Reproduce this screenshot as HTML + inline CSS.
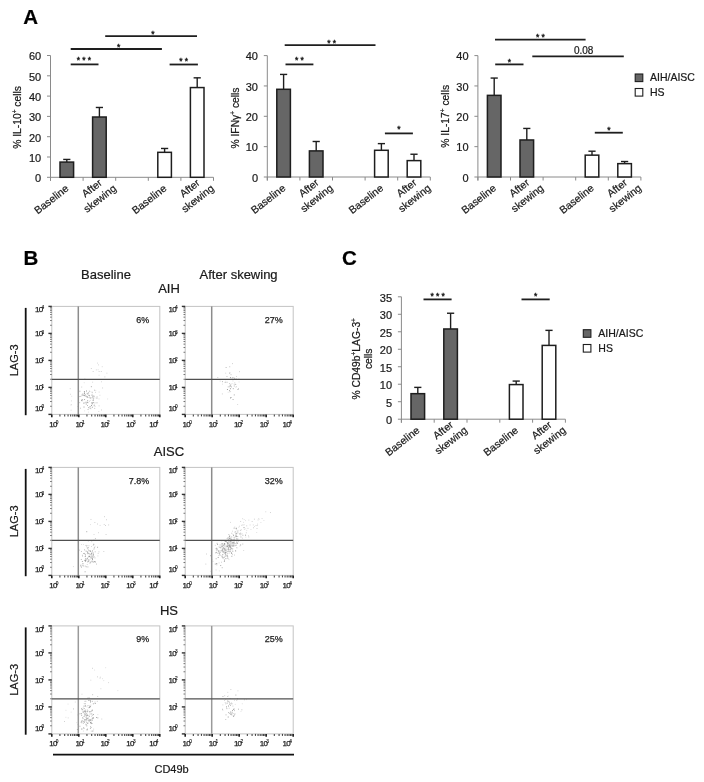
<!DOCTYPE html>
<html><head><meta charset="utf-8"><style>html,body{margin:0;padding:0;background:#fff;}body{width:704px;height:782px;overflow:hidden;font-family:"Liberation Sans",sans-serif;}svg{display:block;filter:grayscale(1) blur(0.3px);} svg text{stroke:#1a1a1a;stroke-width:0.22px;}</style></head><body>
<svg width="704" height="782" viewBox="0 0 704 782" font-family="Liberation Sans, sans-serif">
<rect width="704" height="782" fill="#fff"/>
<text x="23.3" y="23.5" font-size="20.5" font-weight="bold" fill="#000">A</text>
<text x="23.6" y="265" font-size="20.5" font-weight="bold" fill="#000">B</text>
<text x="342" y="265.2" font-size="20.5" font-weight="bold" fill="#000">C</text>
<line x1="50.5" y1="55.5" x2="50.5" y2="180.8" stroke="#8a8a8a" stroke-width="1"/>
<line x1="47" y1="177.3" x2="50.5" y2="177.3" stroke="#8a8a8a" stroke-width="1"/>
<text x="41.2" y="182.1" font-size="11" text-anchor="end" fill="#1a1a1a">0</text>
<line x1="47" y1="157" x2="50.5" y2="157" stroke="#8a8a8a" stroke-width="1"/>
<text x="41.2" y="161.8" font-size="11" text-anchor="end" fill="#1a1a1a">10</text>
<line x1="47" y1="136.7" x2="50.5" y2="136.7" stroke="#8a8a8a" stroke-width="1"/>
<text x="41.2" y="141.5" font-size="11" text-anchor="end" fill="#1a1a1a">20</text>
<line x1="47" y1="116.4" x2="50.5" y2="116.4" stroke="#8a8a8a" stroke-width="1"/>
<text x="41.2" y="121.2" font-size="11" text-anchor="end" fill="#1a1a1a">30</text>
<line x1="47" y1="96.1" x2="50.5" y2="96.1" stroke="#8a8a8a" stroke-width="1"/>
<text x="41.2" y="100.9" font-size="11" text-anchor="end" fill="#1a1a1a">40</text>
<line x1="47" y1="75.8" x2="50.5" y2="75.8" stroke="#8a8a8a" stroke-width="1"/>
<text x="41.2" y="80.6" font-size="11" text-anchor="end" fill="#1a1a1a">50</text>
<line x1="47" y1="55.5" x2="50.5" y2="55.5" stroke="#8a8a8a" stroke-width="1"/>
<text x="41.2" y="60.3" font-size="11" text-anchor="end" fill="#1a1a1a">60</text>
<line x1="50.5" y1="177.3" x2="213.5" y2="177.3" stroke="#8a8a8a" stroke-width="1"/>
<line x1="50.5" y1="177.3" x2="50.5" y2="180.8" stroke="#8a8a8a" stroke-width="1"/>
<line x1="83.1" y1="177.3" x2="83.1" y2="180.8" stroke="#8a8a8a" stroke-width="1"/>
<line x1="115.7" y1="177.3" x2="115.7" y2="180.8" stroke="#8a8a8a" stroke-width="1"/>
<line x1="148.3" y1="177.3" x2="148.3" y2="180.8" stroke="#8a8a8a" stroke-width="1"/>
<line x1="180.9" y1="177.3" x2="180.9" y2="180.8" stroke="#8a8a8a" stroke-width="1"/>
<line x1="213.5" y1="177.3" x2="213.5" y2="180.8" stroke="#8a8a8a" stroke-width="1"/>
<line x1="66.8" y1="162.08" x2="66.8" y2="159.44" stroke="#1e1e1e" stroke-width="1.4"/>
<line x1="63.2" y1="159.44" x2="70.4" y2="159.44" stroke="#1e1e1e" stroke-width="1.4"/>
<rect x="60" y="162.08" width="13.6" height="15.22" fill="#666666" stroke="#1e1e1e" stroke-width="1.5"/>
<line x1="99.4" y1="117.01" x2="99.4" y2="107.47" stroke="#1e1e1e" stroke-width="1.4"/>
<line x1="95.8" y1="107.47" x2="103" y2="107.47" stroke="#1e1e1e" stroke-width="1.4"/>
<rect x="92.6" y="117.01" width="13.6" height="60.29" fill="#666666" stroke="#1e1e1e" stroke-width="1.5"/>
<line x1="164.6" y1="152.33" x2="164.6" y2="148.47" stroke="#1e1e1e" stroke-width="1.4"/>
<line x1="161" y1="148.47" x2="168.2" y2="148.47" stroke="#1e1e1e" stroke-width="1.4"/>
<rect x="157.8" y="152.33" width="13.6" height="24.97" fill="#fff" stroke="#1e1e1e" stroke-width="1.5"/>
<line x1="197.2" y1="87.57" x2="197.2" y2="77.83" stroke="#1e1e1e" stroke-width="1.4"/>
<line x1="193.6" y1="77.83" x2="200.8" y2="77.83" stroke="#1e1e1e" stroke-width="1.4"/>
<rect x="190.4" y="87.57" width="13.6" height="89.73" fill="#fff" stroke="#1e1e1e" stroke-width="1.5"/>
<line x1="70.7" y1="64.4" x2="98.5" y2="64.4" stroke="#1e1e1e" stroke-width="1.8"/>
<text x="85.1" y="63.2" font-size="8.5" text-anchor="middle" fill="#1a1a1a" style="stroke-width:0.4px" letter-spacing="2.2">***</text>
<line x1="70.7" y1="49" x2="161.9" y2="49" stroke="#1e1e1e" stroke-width="1.8"/>
<text x="119.7" y="49.5" font-size="8.5" text-anchor="middle" fill="#1a1a1a" style="stroke-width:0.4px" letter-spacing="2.2">*</text>
<line x1="105.2" y1="36.1" x2="197" y2="36.1" stroke="#1e1e1e" stroke-width="1.8"/>
<text x="154.1" y="36.9" font-size="8.5" text-anchor="middle" fill="#1a1a1a" style="stroke-width:0.4px" letter-spacing="2.2">*</text>
<line x1="169.6" y1="64.5" x2="197.9" y2="64.5" stroke="#1e1e1e" stroke-width="1.8"/>
<text x="184.85" y="63.7" font-size="8.5" text-anchor="middle" fill="#1a1a1a" style="stroke-width:0.4px" letter-spacing="2.2">**</text>
<g transform="translate(67.1,186.8) rotate(-38)" font-size="10.5" fill="#1a1a1a"><text x="-20.14" y="3.78" text-anchor="middle">Baseline</text></g>
<g transform="translate(110.7,181.5) rotate(-38)" font-size="10.5" fill="#1a1a1a"><text x="-18.97" y="-2.72" text-anchor="middle">After</text><text x="-18.97" y="10.28" text-anchor="middle">skewing</text></g>
<g transform="translate(164.9,186.8) rotate(-38)" font-size="10.5" fill="#1a1a1a"><text x="-20.14" y="3.78" text-anchor="middle">Baseline</text></g>
<g transform="translate(208.5,181.5) rotate(-38)" font-size="10.5" fill="#1a1a1a"><text x="-18.97" y="-2.72" text-anchor="middle">After</text><text x="-18.97" y="10.28" text-anchor="middle">skewing</text></g>
<g transform="translate(21.3,117.4) rotate(-90)" fill="#1a1a1a"><text x="0" y="0" font-size="10.3" text-anchor="middle">% IL-10<tspan font-size="6.5" dy="-4">+</tspan><tspan dy="4"> cells</tspan></text></g>
<line x1="267.3" y1="55.6" x2="267.3" y2="180.5" stroke="#8a8a8a" stroke-width="1"/>
<line x1="263.8" y1="177" x2="267.3" y2="177" stroke="#8a8a8a" stroke-width="1"/>
<text x="258" y="181.8" font-size="11" text-anchor="end" fill="#1a1a1a">0</text>
<line x1="263.8" y1="146.65" x2="267.3" y2="146.65" stroke="#8a8a8a" stroke-width="1"/>
<text x="258" y="151.45" font-size="11" text-anchor="end" fill="#1a1a1a">10</text>
<line x1="263.8" y1="116.3" x2="267.3" y2="116.3" stroke="#8a8a8a" stroke-width="1"/>
<text x="258" y="121.1" font-size="11" text-anchor="end" fill="#1a1a1a">20</text>
<line x1="263.8" y1="85.95" x2="267.3" y2="85.95" stroke="#8a8a8a" stroke-width="1"/>
<text x="258" y="90.75" font-size="11" text-anchor="end" fill="#1a1a1a">30</text>
<line x1="263.8" y1="55.6" x2="267.3" y2="55.6" stroke="#8a8a8a" stroke-width="1"/>
<text x="258" y="60.4" font-size="11" text-anchor="end" fill="#1a1a1a">40</text>
<line x1="267.3" y1="177" x2="430.3" y2="177" stroke="#8a8a8a" stroke-width="1"/>
<line x1="267.3" y1="177" x2="267.3" y2="180.5" stroke="#8a8a8a" stroke-width="1"/>
<line x1="299.9" y1="177" x2="299.9" y2="180.5" stroke="#8a8a8a" stroke-width="1"/>
<line x1="332.5" y1="177" x2="332.5" y2="180.5" stroke="#8a8a8a" stroke-width="1"/>
<line x1="365.1" y1="177" x2="365.1" y2="180.5" stroke="#8a8a8a" stroke-width="1"/>
<line x1="397.7" y1="177" x2="397.7" y2="180.5" stroke="#8a8a8a" stroke-width="1"/>
<line x1="430.3" y1="177" x2="430.3" y2="180.5" stroke="#8a8a8a" stroke-width="1"/>
<line x1="283.6" y1="89.29" x2="283.6" y2="74.42" stroke="#1e1e1e" stroke-width="1.4"/>
<line x1="280" y1="74.42" x2="287.2" y2="74.42" stroke="#1e1e1e" stroke-width="1.4"/>
<rect x="276.8" y="89.29" width="13.6" height="87.71" fill="#666666" stroke="#1e1e1e" stroke-width="1.5"/>
<line x1="316.2" y1="150.9" x2="316.2" y2="141.49" stroke="#1e1e1e" stroke-width="1.4"/>
<line x1="312.6" y1="141.49" x2="319.8" y2="141.49" stroke="#1e1e1e" stroke-width="1.4"/>
<rect x="309.4" y="150.9" width="13.6" height="26.1" fill="#666666" stroke="#1e1e1e" stroke-width="1.5"/>
<line x1="381.4" y1="150.29" x2="381.4" y2="143.62" stroke="#1e1e1e" stroke-width="1.4"/>
<line x1="377.8" y1="143.62" x2="385" y2="143.62" stroke="#1e1e1e" stroke-width="1.4"/>
<rect x="374.6" y="150.29" width="13.6" height="26.71" fill="#fff" stroke="#1e1e1e" stroke-width="1.5"/>
<line x1="414" y1="160.61" x2="414" y2="154.24" stroke="#1e1e1e" stroke-width="1.4"/>
<line x1="410.4" y1="154.24" x2="417.6" y2="154.24" stroke="#1e1e1e" stroke-width="1.4"/>
<rect x="407.2" y="160.61" width="13.6" height="16.39" fill="#fff" stroke="#1e1e1e" stroke-width="1.5"/>
<line x1="285.5" y1="64.4" x2="313.4" y2="64.4" stroke="#1e1e1e" stroke-width="1.8"/>
<text x="300.55" y="62.9" font-size="8.5" text-anchor="middle" fill="#1a1a1a" style="stroke-width:0.4px" letter-spacing="2.2">**</text>
<line x1="284.7" y1="45.1" x2="375.5" y2="45.1" stroke="#1e1e1e" stroke-width="1.8"/>
<text x="332.7" y="46.1" font-size="8.5" text-anchor="middle" fill="#1a1a1a" style="stroke-width:0.4px" letter-spacing="2.2">**</text>
<line x1="384.9" y1="133.4" x2="412.9" y2="133.4" stroke="#1e1e1e" stroke-width="1.8"/>
<text x="400" y="132.2" font-size="8.5" text-anchor="middle" fill="#1a1a1a" style="stroke-width:0.4px" letter-spacing="2.2">*</text>
<g transform="translate(283.9,186.5) rotate(-38)" font-size="10.5" fill="#1a1a1a"><text x="-20.14" y="3.78" text-anchor="middle">Baseline</text></g>
<g transform="translate(327.5,181.2) rotate(-38)" font-size="10.5" fill="#1a1a1a"><text x="-18.97" y="-2.72" text-anchor="middle">After</text><text x="-18.97" y="10.28" text-anchor="middle">skewing</text></g>
<g transform="translate(381.7,186.5) rotate(-38)" font-size="10.5" fill="#1a1a1a"><text x="-20.14" y="3.78" text-anchor="middle">Baseline</text></g>
<g transform="translate(425.3,181.2) rotate(-38)" font-size="10.5" fill="#1a1a1a"><text x="-18.97" y="-2.72" text-anchor="middle">After</text><text x="-18.97" y="10.28" text-anchor="middle">skewing</text></g>
<g transform="translate(239.3,118) rotate(-90)" fill="#1a1a1a"><text x="0" y="0" font-size="10.3" text-anchor="middle">% IFNγ<tspan font-size="6.5" dy="-4">+</tspan><tspan dy="4"> cells</tspan></text></g>
<line x1="477.9" y1="55.6" x2="477.9" y2="180.5" stroke="#8a8a8a" stroke-width="1"/>
<line x1="474.4" y1="177" x2="477.9" y2="177" stroke="#8a8a8a" stroke-width="1"/>
<text x="468.6" y="181.8" font-size="11" text-anchor="end" fill="#1a1a1a">0</text>
<line x1="474.4" y1="146.65" x2="477.9" y2="146.65" stroke="#8a8a8a" stroke-width="1"/>
<text x="468.6" y="151.45" font-size="11" text-anchor="end" fill="#1a1a1a">10</text>
<line x1="474.4" y1="116.3" x2="477.9" y2="116.3" stroke="#8a8a8a" stroke-width="1"/>
<text x="468.6" y="121.1" font-size="11" text-anchor="end" fill="#1a1a1a">20</text>
<line x1="474.4" y1="85.95" x2="477.9" y2="85.95" stroke="#8a8a8a" stroke-width="1"/>
<text x="468.6" y="90.75" font-size="11" text-anchor="end" fill="#1a1a1a">30</text>
<line x1="474.4" y1="55.6" x2="477.9" y2="55.6" stroke="#8a8a8a" stroke-width="1"/>
<text x="468.6" y="60.4" font-size="11" text-anchor="end" fill="#1a1a1a">40</text>
<line x1="477.9" y1="177" x2="640.9" y2="177" stroke="#8a8a8a" stroke-width="1"/>
<line x1="477.9" y1="177" x2="477.9" y2="180.5" stroke="#8a8a8a" stroke-width="1"/>
<line x1="510.5" y1="177" x2="510.5" y2="180.5" stroke="#8a8a8a" stroke-width="1"/>
<line x1="543.1" y1="177" x2="543.1" y2="180.5" stroke="#8a8a8a" stroke-width="1"/>
<line x1="575.7" y1="177" x2="575.7" y2="180.5" stroke="#8a8a8a" stroke-width="1"/>
<line x1="608.3" y1="177" x2="608.3" y2="180.5" stroke="#8a8a8a" stroke-width="1"/>
<line x1="640.9" y1="177" x2="640.9" y2="180.5" stroke="#8a8a8a" stroke-width="1"/>
<line x1="494.2" y1="95.36" x2="494.2" y2="78.06" stroke="#1e1e1e" stroke-width="1.4"/>
<line x1="490.6" y1="78.06" x2="497.8" y2="78.06" stroke="#1e1e1e" stroke-width="1.4"/>
<rect x="487.4" y="95.36" width="13.6" height="81.64" fill="#666666" stroke="#1e1e1e" stroke-width="1.5"/>
<line x1="526.8" y1="139.97" x2="526.8" y2="128.44" stroke="#1e1e1e" stroke-width="1.4"/>
<line x1="523.2" y1="128.44" x2="530.4" y2="128.44" stroke="#1e1e1e" stroke-width="1.4"/>
<rect x="520" y="139.97" width="13.6" height="37.03" fill="#666666" stroke="#1e1e1e" stroke-width="1.5"/>
<line x1="592" y1="155.15" x2="592" y2="151.2" stroke="#1e1e1e" stroke-width="1.4"/>
<line x1="588.4" y1="151.2" x2="595.6" y2="151.2" stroke="#1e1e1e" stroke-width="1.4"/>
<rect x="585.2" y="155.15" width="13.6" height="21.85" fill="#fff" stroke="#1e1e1e" stroke-width="1.5"/>
<line x1="624.6" y1="163.65" x2="624.6" y2="161.52" stroke="#1e1e1e" stroke-width="1.4"/>
<line x1="621" y1="161.52" x2="628.2" y2="161.52" stroke="#1e1e1e" stroke-width="1.4"/>
<rect x="617.8" y="163.65" width="13.6" height="13.35" fill="#fff" stroke="#1e1e1e" stroke-width="1.5"/>
<line x1="495.2" y1="64.4" x2="523.5" y2="64.4" stroke="#1e1e1e" stroke-width="1.8"/>
<text x="510.45" y="64.5" font-size="8.5" text-anchor="middle" fill="#1a1a1a" style="stroke-width:0.4px" letter-spacing="2.2">*</text>
<line x1="495" y1="39.7" x2="585.6" y2="39.7" stroke="#1e1e1e" stroke-width="1.8"/>
<text x="541.4" y="40.1" font-size="8.5" text-anchor="middle" fill="#1a1a1a" style="stroke-width:0.4px" letter-spacing="2.2">**</text>
<line x1="532.3" y1="56.3" x2="623.8" y2="56.3" stroke="#1e1e1e" stroke-width="1.8"/>
<text x="583.65" y="53.5" font-size="10" text-anchor="middle" fill="#1a1a1a">0.08</text>
<line x1="594.8" y1="132.7" x2="622.8" y2="132.7" stroke="#1e1e1e" stroke-width="1.8"/>
<text x="609.9" y="133.4" font-size="8.5" text-anchor="middle" fill="#1a1a1a" style="stroke-width:0.4px" letter-spacing="2.2">*</text>
<g transform="translate(494.5,186.5) rotate(-38)" font-size="10.5" fill="#1a1a1a"><text x="-20.14" y="3.78" text-anchor="middle">Baseline</text></g>
<g transform="translate(538.1,181.2) rotate(-38)" font-size="10.5" fill="#1a1a1a"><text x="-18.97" y="-2.72" text-anchor="middle">After</text><text x="-18.97" y="10.28" text-anchor="middle">skewing</text></g>
<g transform="translate(592.3,186.5) rotate(-38)" font-size="10.5" fill="#1a1a1a"><text x="-20.14" y="3.78" text-anchor="middle">Baseline</text></g>
<g transform="translate(635.9,181.2) rotate(-38)" font-size="10.5" fill="#1a1a1a"><text x="-18.97" y="-2.72" text-anchor="middle">After</text><text x="-18.97" y="10.28" text-anchor="middle">skewing</text></g>
<g transform="translate(448.6,116.3) rotate(-90)" fill="#1a1a1a"><text x="0" y="0" font-size="10.3" text-anchor="middle">% IL-17<tspan font-size="6.5" dy="-4">+</tspan><tspan dy="4"> cells</tspan></text></g>
<rect x="635.2" y="74" width="7.6" height="7.6" fill="#666" stroke="#1e1e1e" stroke-width="1.1"/>
<rect x="635.2" y="88.5" width="7.6" height="7.6" fill="#fff" stroke="#1e1e1e" stroke-width="1.1"/>
<text x="650" y="81.2" font-size="10.5" fill="#1a1a1a">AIH/AISC</text>
<text x="650" y="95.8" font-size="10.5" fill="#1a1a1a">HS</text>
<line x1="401.4" y1="296.8" x2="401.4" y2="422.7" stroke="#8a8a8a" stroke-width="1"/>
<line x1="397.9" y1="419.2" x2="401.4" y2="419.2" stroke="#8a8a8a" stroke-width="1"/>
<text x="392.1" y="424" font-size="11" text-anchor="end" fill="#1a1a1a">0</text>
<line x1="397.9" y1="401.71" x2="401.4" y2="401.71" stroke="#8a8a8a" stroke-width="1"/>
<text x="392.1" y="406.51" font-size="11" text-anchor="end" fill="#1a1a1a">5</text>
<line x1="397.9" y1="384.23" x2="401.4" y2="384.23" stroke="#8a8a8a" stroke-width="1"/>
<text x="392.1" y="389.03" font-size="11" text-anchor="end" fill="#1a1a1a">10</text>
<line x1="397.9" y1="366.74" x2="401.4" y2="366.74" stroke="#8a8a8a" stroke-width="1"/>
<text x="392.1" y="371.54" font-size="11" text-anchor="end" fill="#1a1a1a">15</text>
<line x1="397.9" y1="349.26" x2="401.4" y2="349.26" stroke="#8a8a8a" stroke-width="1"/>
<text x="392.1" y="354.06" font-size="11" text-anchor="end" fill="#1a1a1a">20</text>
<line x1="397.9" y1="331.77" x2="401.4" y2="331.77" stroke="#8a8a8a" stroke-width="1"/>
<text x="392.1" y="336.57" font-size="11" text-anchor="end" fill="#1a1a1a">25</text>
<line x1="397.9" y1="314.29" x2="401.4" y2="314.29" stroke="#8a8a8a" stroke-width="1"/>
<text x="392.1" y="319.09" font-size="11" text-anchor="end" fill="#1a1a1a">30</text>
<line x1="397.9" y1="296.8" x2="401.4" y2="296.8" stroke="#8a8a8a" stroke-width="1"/>
<text x="392.1" y="301.6" font-size="11" text-anchor="end" fill="#1a1a1a">35</text>
<line x1="401.4" y1="419.2" x2="565.4" y2="419.2" stroke="#8a8a8a" stroke-width="1"/>
<line x1="401.4" y1="419.2" x2="401.4" y2="422.7" stroke="#8a8a8a" stroke-width="1"/>
<line x1="434.2" y1="419.2" x2="434.2" y2="422.7" stroke="#8a8a8a" stroke-width="1"/>
<line x1="467" y1="419.2" x2="467" y2="422.7" stroke="#8a8a8a" stroke-width="1"/>
<line x1="499.8" y1="419.2" x2="499.8" y2="422.7" stroke="#8a8a8a" stroke-width="1"/>
<line x1="532.6" y1="419.2" x2="532.6" y2="422.7" stroke="#8a8a8a" stroke-width="1"/>
<line x1="565.4" y1="419.2" x2="565.4" y2="422.7" stroke="#8a8a8a" stroke-width="1"/>
<line x1="417.8" y1="393.67" x2="417.8" y2="387.38" stroke="#1e1e1e" stroke-width="1.4"/>
<line x1="414.2" y1="387.38" x2="421.4" y2="387.38" stroke="#1e1e1e" stroke-width="1.4"/>
<rect x="411" y="393.67" width="13.6" height="25.53" fill="#666666" stroke="#1e1e1e" stroke-width="1.5"/>
<line x1="450.6" y1="328.97" x2="450.6" y2="313.24" stroke="#1e1e1e" stroke-width="1.4"/>
<line x1="447" y1="313.24" x2="454.2" y2="313.24" stroke="#1e1e1e" stroke-width="1.4"/>
<rect x="443.8" y="328.97" width="13.6" height="90.23" fill="#666666" stroke="#1e1e1e" stroke-width="1.5"/>
<line x1="516.2" y1="384.58" x2="516.2" y2="381.08" stroke="#1e1e1e" stroke-width="1.4"/>
<line x1="512.6" y1="381.08" x2="519.8" y2="381.08" stroke="#1e1e1e" stroke-width="1.4"/>
<rect x="509.4" y="384.58" width="13.6" height="34.62" fill="#fff" stroke="#1e1e1e" stroke-width="1.5"/>
<line x1="549" y1="345.41" x2="549" y2="330.37" stroke="#1e1e1e" stroke-width="1.4"/>
<line x1="545.4" y1="330.37" x2="552.6" y2="330.37" stroke="#1e1e1e" stroke-width="1.4"/>
<rect x="542.2" y="345.41" width="13.6" height="73.79" fill="#fff" stroke="#1e1e1e" stroke-width="1.5"/>
<line x1="423.5" y1="299.4" x2="451.6" y2="299.4" stroke="#1e1e1e" stroke-width="1.8"/>
<text x="438.65" y="299.3" font-size="8.5" text-anchor="middle" fill="#1a1a1a" style="stroke-width:0.4px" letter-spacing="2.2">***</text>
<line x1="521.5" y1="299.4" x2="549.7" y2="299.4" stroke="#1e1e1e" stroke-width="1.8"/>
<text x="536.7" y="299.3" font-size="8.5" text-anchor="middle" fill="#1a1a1a" style="stroke-width:0.4px" letter-spacing="2.2">*</text>
<g transform="translate(418.1,428.7) rotate(-38)" font-size="10.5" fill="#1a1a1a"><text x="-20.14" y="3.78" text-anchor="middle">Baseline</text></g>
<g transform="translate(461.9,423.4) rotate(-38)" font-size="10.5" fill="#1a1a1a"><text x="-18.97" y="-2.72" text-anchor="middle">After</text><text x="-18.97" y="10.28" text-anchor="middle">skewing</text></g>
<g transform="translate(516.5,428.7) rotate(-38)" font-size="10.5" fill="#1a1a1a"><text x="-20.14" y="3.78" text-anchor="middle">Baseline</text></g>
<g transform="translate(560.3,423.4) rotate(-38)" font-size="10.5" fill="#1a1a1a"><text x="-18.97" y="-2.72" text-anchor="middle">After</text><text x="-18.97" y="10.28" text-anchor="middle">skewing</text></g>
<g transform="translate(365.8,358.8) rotate(-90)" fill="#1a1a1a"><text x="0" y="-6.1" font-size="10.3" text-anchor="middle">% CD49b<tspan font-size="6.5" dy="-4">+</tspan><tspan dy="4">LAG-3</tspan><tspan font-size="6.5" dy="-4">+</tspan></text><text x="0" y="6.3" font-size="10.3" text-anchor="middle">cells</text></g>
<rect x="583.3" y="329.7" width="7.6" height="7.6" fill="#666" stroke="#1e1e1e" stroke-width="1.1"/>
<rect x="583.3" y="344.5" width="7.6" height="7.6" fill="#fff" stroke="#1e1e1e" stroke-width="1.1"/>
<text x="598.3" y="336.9" font-size="10.5" fill="#1a1a1a">AIH/AISC</text>
<text x="598.3" y="352.2" font-size="10.5" fill="#1a1a1a">HS</text>
<text x="106" y="278.9" font-size="13" text-anchor="middle" fill="#1a1a1a">Baseline</text>
<text x="238.6" y="279.3" font-size="13" text-anchor="middle" fill="#1a1a1a">After skewing</text>
<text x="169" y="293.4" font-size="13" text-anchor="middle" fill="#1a1a1a">AIH</text>
<line x1="25.7" y1="307.9" x2="25.7" y2="415.2" stroke="#111" stroke-width="1.8"/>
<text transform="translate(18.2,360.4) rotate(-90)" font-size="11" text-anchor="middle" fill="#1a1a1a">LAG-3</text>
<rect x="51.8" y="306.4" width="108" height="108" fill="none" stroke="#c4c4c4" stroke-width="1"/>
<rect x="86.85" y="401.98" width="0.9" height="0.9" fill="#8a8a8a"/>
<rect x="93.01" y="402.21" width="0.9" height="0.9" fill="#aaaaaa"/>
<rect x="79.44" y="390.77" width="0.9" height="0.9" fill="#9a9a9a"/>
<rect x="92.67" y="400.14" width="0.9" height="0.9" fill="#8a8a8a"/>
<rect x="88.33" y="407.24" width="0.9" height="0.9" fill="#8a8a8a"/>
<rect x="89.07" y="395.21" width="0.9" height="0.9" fill="#9a9a9a"/>
<rect x="83.94" y="391.63" width="0.9" height="0.9" fill="#8a8a8a"/>
<rect x="84" y="395.12" width="0.9" height="0.9" fill="#9a9a9a"/>
<rect x="96.52" y="402.39" width="0.9" height="0.9" fill="#aaaaaa"/>
<rect x="83.1" y="402.65" width="0.9" height="0.9" fill="#aaaaaa"/>
<rect x="81.67" y="394.48" width="0.9" height="0.9" fill="#8a8a8a"/>
<rect x="82.4" y="393.5" width="0.9" height="0.9" fill="#aaaaaa"/>
<rect x="93.81" y="404.75" width="0.9" height="0.9" fill="#8a8a8a"/>
<rect x="84.14" y="392.82" width="0.9" height="0.9" fill="#b8b8b8"/>
<rect x="88.86" y="390.68" width="0.9" height="0.9" fill="#b8b8b8"/>
<rect x="85.81" y="402.44" width="0.9" height="0.9" fill="#9a9a9a"/>
<rect x="86.94" y="393.43" width="0.9" height="0.9" fill="#aaaaaa"/>
<rect x="78.94" y="396.15" width="0.9" height="0.9" fill="#b8b8b8"/>
<rect x="91.45" y="403.32" width="0.9" height="0.9" fill="#aaaaaa"/>
<rect x="91.01" y="405.02" width="0.9" height="0.9" fill="#8a8a8a"/>
<rect x="89.76" y="397.73" width="0.9" height="0.9" fill="#aaaaaa"/>
<rect x="85.76" y="403.89" width="0.9" height="0.9" fill="#b8b8b8"/>
<rect x="83.65" y="394.68" width="0.9" height="0.9" fill="#8a8a8a"/>
<rect x="92.8" y="395.7" width="0.9" height="0.9" fill="#8a8a8a"/>
<rect x="94.5" y="402.45" width="0.9" height="0.9" fill="#b8b8b8"/>
<rect x="87.04" y="405.15" width="0.9" height="0.9" fill="#aaaaaa"/>
<rect x="92.96" y="399.5" width="0.9" height="0.9" fill="#9a9a9a"/>
<rect x="83.97" y="393.16" width="0.9" height="0.9" fill="#9a9a9a"/>
<rect x="88.27" y="394.74" width="0.9" height="0.9" fill="#9a9a9a"/>
<rect x="79.96" y="407.74" width="0.9" height="0.9" fill="#b8b8b8"/>
<rect x="92.3" y="402.11" width="0.9" height="0.9" fill="#aaaaaa"/>
<rect x="94.19" y="389.74" width="0.9" height="0.9" fill="#aaaaaa"/>
<rect x="84.43" y="378.63" width="0.9" height="0.9" fill="#b8b8b8"/>
<rect x="90.48" y="397.35" width="0.9" height="0.9" fill="#9a9a9a"/>
<rect x="91.83" y="406.75" width="0.9" height="0.9" fill="#8a8a8a"/>
<rect x="82.02" y="399.28" width="0.9" height="0.9" fill="#aaaaaa"/>
<rect x="87.5" y="402.25" width="0.9" height="0.9" fill="#aaaaaa"/>
<rect x="84.96" y="394.5" width="0.9" height="0.9" fill="#9a9a9a"/>
<rect x="86.02" y="390.56" width="0.9" height="0.9" fill="#8a8a8a"/>
<rect x="79.23" y="402.21" width="0.9" height="0.9" fill="#b8b8b8"/>
<rect x="84.39" y="402.59" width="0.9" height="0.9" fill="#b8b8b8"/>
<rect x="86.93" y="396.52" width="0.9" height="0.9" fill="#8a8a8a"/>
<rect x="92.83" y="397.67" width="0.9" height="0.9" fill="#8a8a8a"/>
<rect x="87.21" y="400.34" width="0.9" height="0.9" fill="#8a8a8a"/>
<rect x="82.9" y="394.86" width="0.9" height="0.9" fill="#aaaaaa"/>
<rect x="86.7" y="396.65" width="0.9" height="0.9" fill="#9a9a9a"/>
<rect x="86.08" y="395.79" width="0.9" height="0.9" fill="#aaaaaa"/>
<rect x="93.87" y="395.77" width="0.9" height="0.9" fill="#b8b8b8"/>
<rect x="94.27" y="407.89" width="0.9" height="0.9" fill="#b8b8b8"/>
<rect x="84.14" y="399.14" width="0.9" height="0.9" fill="#9a9a9a"/>
<rect x="91.3" y="402.24" width="0.9" height="0.9" fill="#aaaaaa"/>
<rect x="81.16" y="399.84" width="0.9" height="0.9" fill="#8a8a8a"/>
<rect x="83.55" y="406.58" width="0.9" height="0.9" fill="#8a8a8a"/>
<rect x="88.19" y="392.52" width="0.9" height="0.9" fill="#8a8a8a"/>
<rect x="86.84" y="393.26" width="0.9" height="0.9" fill="#aaaaaa"/>
<rect x="91.54" y="394.82" width="0.9" height="0.9" fill="#9a9a9a"/>
<rect x="80.34" y="395.93" width="0.9" height="0.9" fill="#aaaaaa"/>
<rect x="83.94" y="391.11" width="0.9" height="0.9" fill="#9a9a9a"/>
<rect x="90.87" y="386.27" width="0.9" height="0.9" fill="#9a9a9a"/>
<rect x="89.62" y="406.16" width="0.9" height="0.9" fill="#8a8a8a"/>
<rect x="95.93" y="397.59" width="0.9" height="0.9" fill="#b8b8b8"/>
<rect x="87.6" y="409.13" width="0.9" height="0.9" fill="#aaaaaa"/>
<rect x="77.99" y="403.76" width="0.9" height="0.9" fill="#aaaaaa"/>
<rect x="92.12" y="396.54" width="0.9" height="0.9" fill="#9a9a9a"/>
<rect x="92.06" y="403.12" width="0.9" height="0.9" fill="#aaaaaa"/>
<rect x="89.78" y="407.79" width="0.9" height="0.9" fill="#8a8a8a"/>
<rect x="81.51" y="399.71" width="0.9" height="0.9" fill="#8a8a8a"/>
<rect x="89.15" y="395.35" width="0.9" height="0.9" fill="#b8b8b8"/>
<rect x="92.18" y="381.72" width="0.9" height="0.9" fill="#d2d2d2"/>
<rect x="95.32" y="390.23" width="0.9" height="0.9" fill="#dcdcdc"/>
<rect x="84.21" y="410.44" width="0.9" height="0.9" fill="#dcdcdc"/>
<rect x="84.78" y="401.95" width="0.9" height="0.9" fill="#c8c8c8"/>
<rect x="89.37" y="390.97" width="0.9" height="0.9" fill="#c8c8c8"/>
<rect x="98.56" y="398.47" width="0.9" height="0.9" fill="#d2d2d2"/>
<rect x="91.27" y="391.66" width="0.9" height="0.9" fill="#dcdcdc"/>
<rect x="99.44" y="394.77" width="0.9" height="0.9" fill="#d2d2d2"/>
<rect x="94.57" y="405.82" width="0.9" height="0.9" fill="#c8c8c8"/>
<rect x="107.22" y="398.54" width="0.9" height="0.9" fill="#dcdcdc"/>
<rect x="98.64" y="405.41" width="0.9" height="0.9" fill="#c8c8c8"/>
<rect x="77.95" y="403.77" width="0.9" height="0.9" fill="#c8c8c8"/>
<rect x="94.43" y="397.49" width="0.9" height="0.9" fill="#dcdcdc"/>
<rect x="90.51" y="408.34" width="0.9" height="0.9" fill="#d2d2d2"/>
<rect x="78.15" y="391.71" width="0.9" height="0.9" fill="#c8c8c8"/>
<rect x="95.13" y="391.89" width="0.9" height="0.9" fill="#d2d2d2"/>
<rect x="83.76" y="382.3" width="0.9" height="0.9" fill="#dcdcdc"/>
<rect x="77.24" y="406.02" width="0.9" height="0.9" fill="#dcdcdc"/>
<rect x="92.54" y="400.18" width="0.9" height="0.9" fill="#dcdcdc"/>
<rect x="96.95" y="397.54" width="0.9" height="0.9" fill="#c8c8c8"/>
<rect x="81.27" y="386.59" width="0.9" height="0.9" fill="#c8c8c8"/>
<rect x="93.45" y="405.4" width="0.9" height="0.9" fill="#dcdcdc"/>
<rect x="91.69" y="398.6" width="0.9" height="0.9" fill="#dcdcdc"/>
<rect x="81.78" y="395.08" width="0.9" height="0.9" fill="#c8c8c8"/>
<rect x="91.65" y="394.34" width="0.9" height="0.9" fill="#c8c8c8"/>
<rect x="88.12" y="411.66" width="0.9" height="0.9" fill="#dcdcdc"/>
<rect x="88.52" y="397.03" width="0.9" height="0.9" fill="#c8c8c8"/>
<rect x="81.61" y="400.73" width="0.9" height="0.9" fill="#dcdcdc"/>
<rect x="86.59" y="392.69" width="0.9" height="0.9" fill="#d2d2d2"/>
<rect x="82.33" y="399.68" width="0.9" height="0.9" fill="#d2d2d2"/>
<rect x="85.1" y="396.07" width="0.9" height="0.9" fill="#dcdcdc"/>
<rect x="101.08" y="381.35" width="0.9" height="0.9" fill="#d2d2d2"/>
<rect x="102.15" y="387.53" width="0.9" height="0.9" fill="#c8c8c8"/>
<rect x="91.89" y="392.27" width="0.9" height="0.9" fill="#c8c8c8"/>
<rect x="85.58" y="401.31" width="0.9" height="0.9" fill="#dcdcdc"/>
<rect x="90.15" y="399.9" width="0.9" height="0.9" fill="#dcdcdc"/>
<rect x="88.92" y="400.75" width="0.9" height="0.9" fill="#c8c8c8"/>
<rect x="98.67" y="391.6" width="0.9" height="0.9" fill="#d2d2d2"/>
<rect x="98.38" y="410.98" width="0.9" height="0.9" fill="#d2d2d2"/>
<rect x="83.97" y="402.61" width="0.9" height="0.9" fill="#dcdcdc"/>
<rect x="91.91" y="391.76" width="0.9" height="0.9" fill="#d2d2d2"/>
<rect x="96.61" y="396.06" width="0.9" height="0.9" fill="#d2d2d2"/>
<rect x="91.9" y="403.83" width="0.9" height="0.9" fill="#dcdcdc"/>
<rect x="86.07" y="402.5" width="0.9" height="0.9" fill="#d2d2d2"/>
<rect x="88.84" y="397.03" width="0.9" height="0.9" fill="#d2d2d2"/>
<rect x="84.59" y="395.58" width="0.9" height="0.9" fill="#c8c8c8"/>
<rect x="101.05" y="409.52" width="0.9" height="0.9" fill="#c8c8c8"/>
<rect x="93.01" y="395.65" width="0.9" height="0.9" fill="#d2d2d2"/>
<rect x="106.43" y="372.71" width="0.9" height="0.9" fill="#d2d2d2"/>
<rect x="97.09" y="362.64" width="0.9" height="0.9" fill="#d2d2d2"/>
<rect x="98.61" y="374.76" width="0.9" height="0.9" fill="#dcdcdc"/>
<rect x="92.7" y="371.1" width="0.9" height="0.9" fill="#c8c8c8"/>
<rect x="104.42" y="376.48" width="0.9" height="0.9" fill="#c8c8c8"/>
<rect x="98.67" y="371" width="0.9" height="0.9" fill="#c8c8c8"/>
<rect x="90.85" y="368.14" width="0.9" height="0.9" fill="#c8c8c8"/>
<rect x="95.86" y="369.43" width="0.9" height="0.9" fill="#d2d2d2"/>
<rect x="98" y="364.44" width="0.9" height="0.9" fill="#d2d2d2"/>
<rect x="101.76" y="366.29" width="0.9" height="0.9" fill="#d2d2d2"/>
<rect x="97.66" y="369.3" width="0.9" height="0.9" fill="#dcdcdc"/>
<rect x="100.82" y="370.97" width="0.9" height="0.9" fill="#c8c8c8"/>
<rect x="70.93" y="400.44" width="0.9" height="0.9" fill="#d2d2d2"/>
<rect x="69.73" y="388.28" width="0.9" height="0.9" fill="#c8c8c8"/>
<rect x="70.56" y="404.53" width="0.9" height="0.9" fill="#c8c8c8"/>
<rect x="70.65" y="409.72" width="0.9" height="0.9" fill="#d2d2d2"/>
<rect x="71.28" y="395.76" width="0.9" height="0.9" fill="#dcdcdc"/>
<rect x="70.08" y="393.77" width="0.9" height="0.9" fill="#d2d2d2"/>
<rect x="71.04" y="404.11" width="0.9" height="0.9" fill="#dcdcdc"/>
<line x1="78.3" y1="306.4" x2="78.3" y2="414.4" stroke="#8c8c8c" stroke-width="1.5"/>
<line x1="51.8" y1="379.4" x2="159.8" y2="379.4" stroke="#505050" stroke-width="1.2"/>
<line x1="48.4" y1="414.4" x2="51.8" y2="414.4" stroke="#333" stroke-width="1.4"/>
<line x1="50.1" y1="406.27" x2="51.8" y2="406.27" stroke="#666" stroke-width="0.9"/>
<line x1="50.1" y1="401.52" x2="51.8" y2="401.52" stroke="#666" stroke-width="0.9"/>
<line x1="50.1" y1="398.14" x2="51.8" y2="398.14" stroke="#666" stroke-width="0.9"/>
<line x1="50.1" y1="395.53" x2="51.8" y2="395.53" stroke="#666" stroke-width="0.9"/>
<line x1="50.1" y1="393.39" x2="51.8" y2="393.39" stroke="#666" stroke-width="0.9"/>
<line x1="50.1" y1="391.58" x2="51.8" y2="391.58" stroke="#666" stroke-width="0.9"/>
<line x1="50.1" y1="390.02" x2="51.8" y2="390.02" stroke="#666" stroke-width="0.9"/>
<line x1="50.1" y1="388.64" x2="51.8" y2="388.64" stroke="#666" stroke-width="0.9"/>
<text x="35.1" y="411.1" font-size="8" fill="#1a1a1a" style="stroke-width:0.25px" letter-spacing="-0.75">10</text><text x="41.5" y="408.4" font-size="4.8" fill="#1a1a1a" style="stroke-width:0.15px">0</text>
<line x1="48.4" y1="387.4" x2="51.8" y2="387.4" stroke="#333" stroke-width="1.4"/>
<line x1="50.1" y1="379.27" x2="51.8" y2="379.27" stroke="#666" stroke-width="0.9"/>
<line x1="50.1" y1="374.52" x2="51.8" y2="374.52" stroke="#666" stroke-width="0.9"/>
<line x1="50.1" y1="371.14" x2="51.8" y2="371.14" stroke="#666" stroke-width="0.9"/>
<line x1="50.1" y1="368.53" x2="51.8" y2="368.53" stroke="#666" stroke-width="0.9"/>
<line x1="50.1" y1="366.39" x2="51.8" y2="366.39" stroke="#666" stroke-width="0.9"/>
<line x1="50.1" y1="364.58" x2="51.8" y2="364.58" stroke="#666" stroke-width="0.9"/>
<line x1="50.1" y1="363.02" x2="51.8" y2="363.02" stroke="#666" stroke-width="0.9"/>
<line x1="50.1" y1="361.64" x2="51.8" y2="361.64" stroke="#666" stroke-width="0.9"/>
<text x="35.1" y="390.3" font-size="8" fill="#1a1a1a" style="stroke-width:0.25px" letter-spacing="-0.75">10</text><text x="41.5" y="387.6" font-size="4.8" fill="#1a1a1a" style="stroke-width:0.15px">1</text>
<line x1="48.4" y1="360.4" x2="51.8" y2="360.4" stroke="#333" stroke-width="1.4"/>
<line x1="50.1" y1="352.27" x2="51.8" y2="352.27" stroke="#666" stroke-width="0.9"/>
<line x1="50.1" y1="347.52" x2="51.8" y2="347.52" stroke="#666" stroke-width="0.9"/>
<line x1="50.1" y1="344.14" x2="51.8" y2="344.14" stroke="#666" stroke-width="0.9"/>
<line x1="50.1" y1="341.53" x2="51.8" y2="341.53" stroke="#666" stroke-width="0.9"/>
<line x1="50.1" y1="339.39" x2="51.8" y2="339.39" stroke="#666" stroke-width="0.9"/>
<line x1="50.1" y1="337.58" x2="51.8" y2="337.58" stroke="#666" stroke-width="0.9"/>
<line x1="50.1" y1="336.02" x2="51.8" y2="336.02" stroke="#666" stroke-width="0.9"/>
<line x1="50.1" y1="334.64" x2="51.8" y2="334.64" stroke="#666" stroke-width="0.9"/>
<text x="35.1" y="363.3" font-size="8" fill="#1a1a1a" style="stroke-width:0.25px" letter-spacing="-0.75">10</text><text x="41.5" y="360.6" font-size="4.8" fill="#1a1a1a" style="stroke-width:0.15px">2</text>
<line x1="48.4" y1="333.4" x2="51.8" y2="333.4" stroke="#333" stroke-width="1.4"/>
<line x1="50.1" y1="325.27" x2="51.8" y2="325.27" stroke="#666" stroke-width="0.9"/>
<line x1="50.1" y1="320.52" x2="51.8" y2="320.52" stroke="#666" stroke-width="0.9"/>
<line x1="50.1" y1="317.14" x2="51.8" y2="317.14" stroke="#666" stroke-width="0.9"/>
<line x1="50.1" y1="314.53" x2="51.8" y2="314.53" stroke="#666" stroke-width="0.9"/>
<line x1="50.1" y1="312.39" x2="51.8" y2="312.39" stroke="#666" stroke-width="0.9"/>
<line x1="50.1" y1="310.58" x2="51.8" y2="310.58" stroke="#666" stroke-width="0.9"/>
<line x1="50.1" y1="309.02" x2="51.8" y2="309.02" stroke="#666" stroke-width="0.9"/>
<line x1="50.1" y1="307.64" x2="51.8" y2="307.64" stroke="#666" stroke-width="0.9"/>
<text x="35.1" y="336.3" font-size="8" fill="#1a1a1a" style="stroke-width:0.25px" letter-spacing="-0.75">10</text><text x="41.5" y="333.6" font-size="4.8" fill="#1a1a1a" style="stroke-width:0.15px">3</text>
<line x1="48.4" y1="306.4" x2="51.8" y2="306.4" stroke="#333" stroke-width="1.4"/>
<text x="35.1" y="312" font-size="8" fill="#1a1a1a" style="stroke-width:0.25px" letter-spacing="-0.75">10</text><text x="41.5" y="309.3" font-size="4.8" fill="#1a1a1a" style="stroke-width:0.15px">4</text>
<line x1="51.8" y1="414.4" x2="51.8" y2="417.2" stroke="#222" stroke-width="1.6"/>
<line x1="59.93" y1="414.4" x2="59.93" y2="416.4" stroke="#444" stroke-width="1.1"/>
<line x1="64.68" y1="414.4" x2="64.68" y2="416.4" stroke="#444" stroke-width="1.1"/>
<line x1="68.06" y1="414.4" x2="68.06" y2="416.4" stroke="#444" stroke-width="1.1"/>
<line x1="70.67" y1="414.4" x2="70.67" y2="416.4" stroke="#444" stroke-width="1.1"/>
<line x1="72.81" y1="414.4" x2="72.81" y2="416.4" stroke="#444" stroke-width="1.1"/>
<line x1="74.62" y1="414.4" x2="74.62" y2="416.4" stroke="#444" stroke-width="1.1"/>
<line x1="76.18" y1="414.4" x2="76.18" y2="416.4" stroke="#444" stroke-width="1.1"/>
<line x1="77.56" y1="414.4" x2="77.56" y2="416.4" stroke="#444" stroke-width="1.1"/>
<text x="49.2" y="426.6" font-size="8" fill="#1a1a1a" style="stroke-width:0.25px" letter-spacing="-0.75">10</text><text x="55.8" y="423.9" font-size="4.8" fill="#1a1a1a" style="stroke-width:0.15px">0</text>
<line x1="78.8" y1="414.4" x2="78.8" y2="417.2" stroke="#222" stroke-width="1.6"/>
<line x1="86.93" y1="414.4" x2="86.93" y2="416.4" stroke="#444" stroke-width="1.1"/>
<line x1="91.68" y1="414.4" x2="91.68" y2="416.4" stroke="#444" stroke-width="1.1"/>
<line x1="95.06" y1="414.4" x2="95.06" y2="416.4" stroke="#444" stroke-width="1.1"/>
<line x1="97.67" y1="414.4" x2="97.67" y2="416.4" stroke="#444" stroke-width="1.1"/>
<line x1="99.81" y1="414.4" x2="99.81" y2="416.4" stroke="#444" stroke-width="1.1"/>
<line x1="101.62" y1="414.4" x2="101.62" y2="416.4" stroke="#444" stroke-width="1.1"/>
<line x1="103.18" y1="414.4" x2="103.18" y2="416.4" stroke="#444" stroke-width="1.1"/>
<line x1="104.56" y1="414.4" x2="104.56" y2="416.4" stroke="#444" stroke-width="1.1"/>
<text x="75.4" y="426.6" font-size="8" fill="#1a1a1a" style="stroke-width:0.25px" letter-spacing="-0.75">10</text><text x="82" y="423.9" font-size="4.8" fill="#1a1a1a" style="stroke-width:0.15px">1</text>
<line x1="105.8" y1="414.4" x2="105.8" y2="417.2" stroke="#222" stroke-width="1.6"/>
<line x1="113.93" y1="414.4" x2="113.93" y2="416.4" stroke="#444" stroke-width="1.1"/>
<line x1="118.68" y1="414.4" x2="118.68" y2="416.4" stroke="#444" stroke-width="1.1"/>
<line x1="122.06" y1="414.4" x2="122.06" y2="416.4" stroke="#444" stroke-width="1.1"/>
<line x1="124.67" y1="414.4" x2="124.67" y2="416.4" stroke="#444" stroke-width="1.1"/>
<line x1="126.81" y1="414.4" x2="126.81" y2="416.4" stroke="#444" stroke-width="1.1"/>
<line x1="128.62" y1="414.4" x2="128.62" y2="416.4" stroke="#444" stroke-width="1.1"/>
<line x1="130.18" y1="414.4" x2="130.18" y2="416.4" stroke="#444" stroke-width="1.1"/>
<line x1="131.56" y1="414.4" x2="131.56" y2="416.4" stroke="#444" stroke-width="1.1"/>
<text x="100.5" y="426.6" font-size="8" fill="#1a1a1a" style="stroke-width:0.25px" letter-spacing="-0.75">10</text><text x="107.1" y="423.9" font-size="4.8" fill="#1a1a1a" style="stroke-width:0.15px">2</text>
<line x1="132.8" y1="414.4" x2="132.8" y2="417.2" stroke="#222" stroke-width="1.6"/>
<line x1="140.93" y1="414.4" x2="140.93" y2="416.4" stroke="#444" stroke-width="1.1"/>
<line x1="145.68" y1="414.4" x2="145.68" y2="416.4" stroke="#444" stroke-width="1.1"/>
<line x1="149.06" y1="414.4" x2="149.06" y2="416.4" stroke="#444" stroke-width="1.1"/>
<line x1="151.67" y1="414.4" x2="151.67" y2="416.4" stroke="#444" stroke-width="1.1"/>
<line x1="153.81" y1="414.4" x2="153.81" y2="416.4" stroke="#444" stroke-width="1.1"/>
<line x1="155.62" y1="414.4" x2="155.62" y2="416.4" stroke="#444" stroke-width="1.1"/>
<line x1="157.18" y1="414.4" x2="157.18" y2="416.4" stroke="#444" stroke-width="1.1"/>
<line x1="158.56" y1="414.4" x2="158.56" y2="416.4" stroke="#444" stroke-width="1.1"/>
<text x="126.3" y="426.6" font-size="8" fill="#1a1a1a" style="stroke-width:0.25px" letter-spacing="-0.75">10</text><text x="132.9" y="423.9" font-size="4.8" fill="#1a1a1a" style="stroke-width:0.15px">3</text>
<line x1="159.8" y1="414.4" x2="159.8" y2="417.2" stroke="#222" stroke-width="1.6"/>
<text x="149.2" y="426.6" font-size="8" fill="#1a1a1a" style="stroke-width:0.25px" letter-spacing="-0.75">10</text><text x="155.8" y="423.9" font-size="4.8" fill="#1a1a1a" style="stroke-width:0.15px">4</text>
<text x="149.3" y="322.7" font-size="9" text-anchor="end" fill="#2a2a2a" style="stroke-width:0.25px">6%</text>
<rect x="185.2" y="306.4" width="108" height="108" fill="none" stroke="#c4c4c4" stroke-width="1"/>
<rect x="231.79" y="378.64" width="0.9" height="0.9" fill="#b8b8b8"/>
<rect x="221.96" y="381.23" width="0.9" height="0.9" fill="#aaaaaa"/>
<rect x="225.66" y="367" width="0.9" height="0.9" fill="#aaaaaa"/>
<rect x="232.62" y="399.12" width="0.9" height="0.9" fill="#9a9a9a"/>
<rect x="226.95" y="389.05" width="0.9" height="0.9" fill="#8a8a8a"/>
<rect x="230.35" y="384.39" width="0.9" height="0.9" fill="#aaaaaa"/>
<rect x="228.78" y="386.4" width="0.9" height="0.9" fill="#b8b8b8"/>
<rect x="234.1" y="377.82" width="0.9" height="0.9" fill="#aaaaaa"/>
<rect x="225" y="379.15" width="0.9" height="0.9" fill="#8a8a8a"/>
<rect x="227.73" y="386.43" width="0.9" height="0.9" fill="#b8b8b8"/>
<rect x="233.81" y="385.55" width="0.9" height="0.9" fill="#aaaaaa"/>
<rect x="234.96" y="383.89" width="0.9" height="0.9" fill="#9a9a9a"/>
<rect x="238.08" y="388.51" width="0.9" height="0.9" fill="#9a9a9a"/>
<rect x="229.89" y="385.65" width="0.9" height="0.9" fill="#b8b8b8"/>
<rect x="232.8" y="388.25" width="0.9" height="0.9" fill="#9a9a9a"/>
<rect x="230.08" y="397.51" width="0.9" height="0.9" fill="#8a8a8a"/>
<rect x="229.85" y="388.42" width="0.9" height="0.9" fill="#b8b8b8"/>
<rect x="226.58" y="381.77" width="0.9" height="0.9" fill="#aaaaaa"/>
<rect x="229.03" y="390.2" width="0.9" height="0.9" fill="#9a9a9a"/>
<rect x="226.52" y="376.12" width="0.9" height="0.9" fill="#b8b8b8"/>
<rect x="230.57" y="374.27" width="0.9" height="0.9" fill="#b8b8b8"/>
<rect x="233.79" y="394.47" width="0.9" height="0.9" fill="#9a9a9a"/>
<rect x="237.31" y="389.01" width="0.9" height="0.9" fill="#b8b8b8"/>
<rect x="229.26" y="372.66" width="0.9" height="0.9" fill="#9a9a9a"/>
<rect x="235.64" y="379.12" width="0.9" height="0.9" fill="#8a8a8a"/>
<rect x="232.45" y="377.18" width="0.9" height="0.9" fill="#9a9a9a"/>
<rect x="231.01" y="386.44" width="0.9" height="0.9" fill="#aaaaaa"/>
<rect x="233.76" y="383.69" width="0.9" height="0.9" fill="#b8b8b8"/>
<rect x="224.75" y="381.86" width="0.9" height="0.9" fill="#9a9a9a"/>
<rect x="229.67" y="385.44" width="0.9" height="0.9" fill="#8a8a8a"/>
<rect x="229.95" y="377.12" width="0.9" height="0.9" fill="#8a8a8a"/>
<rect x="229.2" y="383.22" width="0.9" height="0.9" fill="#b8b8b8"/>
<rect x="229.98" y="388.15" width="0.9" height="0.9" fill="#aaaaaa"/>
<rect x="230.64" y="397.11" width="0.9" height="0.9" fill="#9a9a9a"/>
<rect x="229.3" y="366.35" width="0.9" height="0.9" fill="#b8b8b8"/>
<rect x="233.35" y="377.43" width="0.9" height="0.9" fill="#dcdcdc"/>
<rect x="231.57" y="383.11" width="0.9" height="0.9" fill="#dcdcdc"/>
<rect x="230.5" y="377.58" width="0.9" height="0.9" fill="#c8c8c8"/>
<rect x="227.72" y="391.78" width="0.9" height="0.9" fill="#dcdcdc"/>
<rect x="229.39" y="391.38" width="0.9" height="0.9" fill="#c8c8c8"/>
<rect x="225.12" y="381.54" width="0.9" height="0.9" fill="#dcdcdc"/>
<rect x="235.41" y="384.09" width="0.9" height="0.9" fill="#d2d2d2"/>
<rect x="230.16" y="390.9" width="0.9" height="0.9" fill="#d2d2d2"/>
<rect x="221.99" y="383.67" width="0.9" height="0.9" fill="#dcdcdc"/>
<rect x="237.2" y="404.03" width="0.9" height="0.9" fill="#d2d2d2"/>
<rect x="238.61" y="381.49" width="0.9" height="0.9" fill="#dcdcdc"/>
<rect x="238.42" y="378.44" width="0.9" height="0.9" fill="#d2d2d2"/>
<rect x="221.87" y="393.49" width="0.9" height="0.9" fill="#c8c8c8"/>
<rect x="234.33" y="382.17" width="0.9" height="0.9" fill="#dcdcdc"/>
<rect x="217.35" y="377.05" width="0.9" height="0.9" fill="#c8c8c8"/>
<rect x="225.25" y="372.71" width="0.9" height="0.9" fill="#d2d2d2"/>
<rect x="239.09" y="371.25" width="0.9" height="0.9" fill="#c8c8c8"/>
<rect x="219.74" y="380.64" width="0.9" height="0.9" fill="#d2d2d2"/>
<rect x="232.5" y="380.52" width="0.9" height="0.9" fill="#d2d2d2"/>
<rect x="229.45" y="372.06" width="0.9" height="0.9" fill="#dcdcdc"/>
<rect x="235.49" y="386.79" width="0.9" height="0.9" fill="#d2d2d2"/>
<rect x="235.9" y="385.96" width="0.9" height="0.9" fill="#d2d2d2"/>
<rect x="232.05" y="363.2" width="0.9" height="0.9" fill="#c8c8c8"/>
<rect x="235.68" y="378.21" width="0.9" height="0.9" fill="#c8c8c8"/>
<rect x="236.04" y="376.08" width="0.9" height="0.9" fill="#d2d2d2"/>
<line x1="211.7" y1="306.4" x2="211.7" y2="414.4" stroke="#8c8c8c" stroke-width="1.5"/>
<line x1="185.2" y1="379.4" x2="293.2" y2="379.4" stroke="#505050" stroke-width="1.2"/>
<line x1="181.8" y1="414.4" x2="185.2" y2="414.4" stroke="#333" stroke-width="1.4"/>
<line x1="183.5" y1="406.27" x2="185.2" y2="406.27" stroke="#666" stroke-width="0.9"/>
<line x1="183.5" y1="401.52" x2="185.2" y2="401.52" stroke="#666" stroke-width="0.9"/>
<line x1="183.5" y1="398.14" x2="185.2" y2="398.14" stroke="#666" stroke-width="0.9"/>
<line x1="183.5" y1="395.53" x2="185.2" y2="395.53" stroke="#666" stroke-width="0.9"/>
<line x1="183.5" y1="393.39" x2="185.2" y2="393.39" stroke="#666" stroke-width="0.9"/>
<line x1="183.5" y1="391.58" x2="185.2" y2="391.58" stroke="#666" stroke-width="0.9"/>
<line x1="183.5" y1="390.02" x2="185.2" y2="390.02" stroke="#666" stroke-width="0.9"/>
<line x1="183.5" y1="388.64" x2="185.2" y2="388.64" stroke="#666" stroke-width="0.9"/>
<text x="168.5" y="411.1" font-size="8" fill="#1a1a1a" style="stroke-width:0.25px" letter-spacing="-0.75">10</text><text x="174.9" y="408.4" font-size="4.8" fill="#1a1a1a" style="stroke-width:0.15px">0</text>
<line x1="181.8" y1="387.4" x2="185.2" y2="387.4" stroke="#333" stroke-width="1.4"/>
<line x1="183.5" y1="379.27" x2="185.2" y2="379.27" stroke="#666" stroke-width="0.9"/>
<line x1="183.5" y1="374.52" x2="185.2" y2="374.52" stroke="#666" stroke-width="0.9"/>
<line x1="183.5" y1="371.14" x2="185.2" y2="371.14" stroke="#666" stroke-width="0.9"/>
<line x1="183.5" y1="368.53" x2="185.2" y2="368.53" stroke="#666" stroke-width="0.9"/>
<line x1="183.5" y1="366.39" x2="185.2" y2="366.39" stroke="#666" stroke-width="0.9"/>
<line x1="183.5" y1="364.58" x2="185.2" y2="364.58" stroke="#666" stroke-width="0.9"/>
<line x1="183.5" y1="363.02" x2="185.2" y2="363.02" stroke="#666" stroke-width="0.9"/>
<line x1="183.5" y1="361.64" x2="185.2" y2="361.64" stroke="#666" stroke-width="0.9"/>
<text x="168.5" y="390.3" font-size="8" fill="#1a1a1a" style="stroke-width:0.25px" letter-spacing="-0.75">10</text><text x="174.9" y="387.6" font-size="4.8" fill="#1a1a1a" style="stroke-width:0.15px">1</text>
<line x1="181.8" y1="360.4" x2="185.2" y2="360.4" stroke="#333" stroke-width="1.4"/>
<line x1="183.5" y1="352.27" x2="185.2" y2="352.27" stroke="#666" stroke-width="0.9"/>
<line x1="183.5" y1="347.52" x2="185.2" y2="347.52" stroke="#666" stroke-width="0.9"/>
<line x1="183.5" y1="344.14" x2="185.2" y2="344.14" stroke="#666" stroke-width="0.9"/>
<line x1="183.5" y1="341.53" x2="185.2" y2="341.53" stroke="#666" stroke-width="0.9"/>
<line x1="183.5" y1="339.39" x2="185.2" y2="339.39" stroke="#666" stroke-width="0.9"/>
<line x1="183.5" y1="337.58" x2="185.2" y2="337.58" stroke="#666" stroke-width="0.9"/>
<line x1="183.5" y1="336.02" x2="185.2" y2="336.02" stroke="#666" stroke-width="0.9"/>
<line x1="183.5" y1="334.64" x2="185.2" y2="334.64" stroke="#666" stroke-width="0.9"/>
<text x="168.5" y="363.3" font-size="8" fill="#1a1a1a" style="stroke-width:0.25px" letter-spacing="-0.75">10</text><text x="174.9" y="360.6" font-size="4.8" fill="#1a1a1a" style="stroke-width:0.15px">2</text>
<line x1="181.8" y1="333.4" x2="185.2" y2="333.4" stroke="#333" stroke-width="1.4"/>
<line x1="183.5" y1="325.27" x2="185.2" y2="325.27" stroke="#666" stroke-width="0.9"/>
<line x1="183.5" y1="320.52" x2="185.2" y2="320.52" stroke="#666" stroke-width="0.9"/>
<line x1="183.5" y1="317.14" x2="185.2" y2="317.14" stroke="#666" stroke-width="0.9"/>
<line x1="183.5" y1="314.53" x2="185.2" y2="314.53" stroke="#666" stroke-width="0.9"/>
<line x1="183.5" y1="312.39" x2="185.2" y2="312.39" stroke="#666" stroke-width="0.9"/>
<line x1="183.5" y1="310.58" x2="185.2" y2="310.58" stroke="#666" stroke-width="0.9"/>
<line x1="183.5" y1="309.02" x2="185.2" y2="309.02" stroke="#666" stroke-width="0.9"/>
<line x1="183.5" y1="307.64" x2="185.2" y2="307.64" stroke="#666" stroke-width="0.9"/>
<text x="168.5" y="336.3" font-size="8" fill="#1a1a1a" style="stroke-width:0.25px" letter-spacing="-0.75">10</text><text x="174.9" y="333.6" font-size="4.8" fill="#1a1a1a" style="stroke-width:0.15px">3</text>
<line x1="181.8" y1="306.4" x2="185.2" y2="306.4" stroke="#333" stroke-width="1.4"/>
<text x="168.5" y="312" font-size="8" fill="#1a1a1a" style="stroke-width:0.25px" letter-spacing="-0.75">10</text><text x="174.9" y="309.3" font-size="4.8" fill="#1a1a1a" style="stroke-width:0.15px">4</text>
<line x1="185.2" y1="414.4" x2="185.2" y2="417.2" stroke="#222" stroke-width="1.6"/>
<line x1="193.33" y1="414.4" x2="193.33" y2="416.4" stroke="#444" stroke-width="1.1"/>
<line x1="198.08" y1="414.4" x2="198.08" y2="416.4" stroke="#444" stroke-width="1.1"/>
<line x1="201.46" y1="414.4" x2="201.46" y2="416.4" stroke="#444" stroke-width="1.1"/>
<line x1="204.07" y1="414.4" x2="204.07" y2="416.4" stroke="#444" stroke-width="1.1"/>
<line x1="206.21" y1="414.4" x2="206.21" y2="416.4" stroke="#444" stroke-width="1.1"/>
<line x1="208.02" y1="414.4" x2="208.02" y2="416.4" stroke="#444" stroke-width="1.1"/>
<line x1="209.58" y1="414.4" x2="209.58" y2="416.4" stroke="#444" stroke-width="1.1"/>
<line x1="210.96" y1="414.4" x2="210.96" y2="416.4" stroke="#444" stroke-width="1.1"/>
<text x="182.6" y="426.6" font-size="8" fill="#1a1a1a" style="stroke-width:0.25px" letter-spacing="-0.75">10</text><text x="189.2" y="423.9" font-size="4.8" fill="#1a1a1a" style="stroke-width:0.15px">0</text>
<line x1="212.2" y1="414.4" x2="212.2" y2="417.2" stroke="#222" stroke-width="1.6"/>
<line x1="220.33" y1="414.4" x2="220.33" y2="416.4" stroke="#444" stroke-width="1.1"/>
<line x1="225.08" y1="414.4" x2="225.08" y2="416.4" stroke="#444" stroke-width="1.1"/>
<line x1="228.46" y1="414.4" x2="228.46" y2="416.4" stroke="#444" stroke-width="1.1"/>
<line x1="231.07" y1="414.4" x2="231.07" y2="416.4" stroke="#444" stroke-width="1.1"/>
<line x1="233.21" y1="414.4" x2="233.21" y2="416.4" stroke="#444" stroke-width="1.1"/>
<line x1="235.02" y1="414.4" x2="235.02" y2="416.4" stroke="#444" stroke-width="1.1"/>
<line x1="236.58" y1="414.4" x2="236.58" y2="416.4" stroke="#444" stroke-width="1.1"/>
<line x1="237.96" y1="414.4" x2="237.96" y2="416.4" stroke="#444" stroke-width="1.1"/>
<text x="208.8" y="426.6" font-size="8" fill="#1a1a1a" style="stroke-width:0.25px" letter-spacing="-0.75">10</text><text x="215.4" y="423.9" font-size="4.8" fill="#1a1a1a" style="stroke-width:0.15px">1</text>
<line x1="239.2" y1="414.4" x2="239.2" y2="417.2" stroke="#222" stroke-width="1.6"/>
<line x1="247.33" y1="414.4" x2="247.33" y2="416.4" stroke="#444" stroke-width="1.1"/>
<line x1="252.08" y1="414.4" x2="252.08" y2="416.4" stroke="#444" stroke-width="1.1"/>
<line x1="255.46" y1="414.4" x2="255.46" y2="416.4" stroke="#444" stroke-width="1.1"/>
<line x1="258.07" y1="414.4" x2="258.07" y2="416.4" stroke="#444" stroke-width="1.1"/>
<line x1="260.21" y1="414.4" x2="260.21" y2="416.4" stroke="#444" stroke-width="1.1"/>
<line x1="262.02" y1="414.4" x2="262.02" y2="416.4" stroke="#444" stroke-width="1.1"/>
<line x1="263.58" y1="414.4" x2="263.58" y2="416.4" stroke="#444" stroke-width="1.1"/>
<line x1="264.96" y1="414.4" x2="264.96" y2="416.4" stroke="#444" stroke-width="1.1"/>
<text x="233.9" y="426.6" font-size="8" fill="#1a1a1a" style="stroke-width:0.25px" letter-spacing="-0.75">10</text><text x="240.5" y="423.9" font-size="4.8" fill="#1a1a1a" style="stroke-width:0.15px">2</text>
<line x1="266.2" y1="414.4" x2="266.2" y2="417.2" stroke="#222" stroke-width="1.6"/>
<line x1="274.33" y1="414.4" x2="274.33" y2="416.4" stroke="#444" stroke-width="1.1"/>
<line x1="279.08" y1="414.4" x2="279.08" y2="416.4" stroke="#444" stroke-width="1.1"/>
<line x1="282.46" y1="414.4" x2="282.46" y2="416.4" stroke="#444" stroke-width="1.1"/>
<line x1="285.07" y1="414.4" x2="285.07" y2="416.4" stroke="#444" stroke-width="1.1"/>
<line x1="287.21" y1="414.4" x2="287.21" y2="416.4" stroke="#444" stroke-width="1.1"/>
<line x1="289.02" y1="414.4" x2="289.02" y2="416.4" stroke="#444" stroke-width="1.1"/>
<line x1="290.58" y1="414.4" x2="290.58" y2="416.4" stroke="#444" stroke-width="1.1"/>
<line x1="291.96" y1="414.4" x2="291.96" y2="416.4" stroke="#444" stroke-width="1.1"/>
<text x="259.7" y="426.6" font-size="8" fill="#1a1a1a" style="stroke-width:0.25px" letter-spacing="-0.75">10</text><text x="266.3" y="423.9" font-size="4.8" fill="#1a1a1a" style="stroke-width:0.15px">3</text>
<line x1="293.2" y1="414.4" x2="293.2" y2="417.2" stroke="#222" stroke-width="1.6"/>
<text x="282.6" y="426.6" font-size="8" fill="#1a1a1a" style="stroke-width:0.25px" letter-spacing="-0.75">10</text><text x="289.2" y="423.9" font-size="4.8" fill="#1a1a1a" style="stroke-width:0.15px">4</text>
<text x="282.7" y="322.7" font-size="9" text-anchor="end" fill="#2a2a2a" style="stroke-width:0.25px">27%</text>
<text x="169" y="455.8" font-size="13" text-anchor="middle" fill="#1a1a1a">AISC</text>
<line x1="25.7" y1="468.9" x2="25.7" y2="576.2" stroke="#111" stroke-width="1.8"/>
<text transform="translate(18.2,521.4) rotate(-90)" font-size="11" text-anchor="middle" fill="#1a1a1a">LAG-3</text>
<rect x="51.8" y="467.4" width="108" height="108" fill="none" stroke="#c4c4c4" stroke-width="1"/>
<rect x="92.11" y="558.16" width="0.9" height="0.9" fill="#8a8a8a"/>
<rect x="84.95" y="561.08" width="0.9" height="0.9" fill="#aaaaaa"/>
<rect x="90.23" y="550.89" width="0.9" height="0.9" fill="#8a8a8a"/>
<rect x="89.87" y="550.45" width="0.9" height="0.9" fill="#9a9a9a"/>
<rect x="88.02" y="560.9" width="0.9" height="0.9" fill="#aaaaaa"/>
<rect x="89.61" y="561.69" width="0.9" height="0.9" fill="#b8b8b8"/>
<rect x="94.15" y="546.89" width="0.9" height="0.9" fill="#b8b8b8"/>
<rect x="97.15" y="546.79" width="0.9" height="0.9" fill="#9a9a9a"/>
<rect x="87.73" y="553.21" width="0.9" height="0.9" fill="#b8b8b8"/>
<rect x="80.83" y="558.96" width="0.9" height="0.9" fill="#aaaaaa"/>
<rect x="78.12" y="556.8" width="0.9" height="0.9" fill="#9a9a9a"/>
<rect x="90.22" y="561.77" width="0.9" height="0.9" fill="#aaaaaa"/>
<rect x="85.82" y="566.36" width="0.9" height="0.9" fill="#aaaaaa"/>
<rect x="85.24" y="558.27" width="0.9" height="0.9" fill="#b8b8b8"/>
<rect x="83.78" y="552.93" width="0.9" height="0.9" fill="#9a9a9a"/>
<rect x="86.89" y="553.23" width="0.9" height="0.9" fill="#b8b8b8"/>
<rect x="83.3" y="553.01" width="0.9" height="0.9" fill="#aaaaaa"/>
<rect x="92.92" y="555.23" width="0.9" height="0.9" fill="#9a9a9a"/>
<rect x="84.78" y="553.85" width="0.9" height="0.9" fill="#9a9a9a"/>
<rect x="86.93" y="557.96" width="0.9" height="0.9" fill="#9a9a9a"/>
<rect x="82.46" y="564.78" width="0.9" height="0.9" fill="#9a9a9a"/>
<rect x="93.69" y="547.82" width="0.9" height="0.9" fill="#b8b8b8"/>
<rect x="82.48" y="563.18" width="0.9" height="0.9" fill="#9a9a9a"/>
<rect x="85.08" y="559.84" width="0.9" height="0.9" fill="#8a8a8a"/>
<rect x="82.12" y="555.51" width="0.9" height="0.9" fill="#aaaaaa"/>
<rect x="91.74" y="561.29" width="0.9" height="0.9" fill="#9a9a9a"/>
<rect x="96.01" y="563.6" width="0.9" height="0.9" fill="#b8b8b8"/>
<rect x="84.05" y="559.88" width="0.9" height="0.9" fill="#aaaaaa"/>
<rect x="93.31" y="543.83" width="0.9" height="0.9" fill="#8a8a8a"/>
<rect x="91.3" y="560.68" width="0.9" height="0.9" fill="#b8b8b8"/>
<rect x="93.12" y="553.79" width="0.9" height="0.9" fill="#8a8a8a"/>
<rect x="80.01" y="565.49" width="0.9" height="0.9" fill="#b8b8b8"/>
<rect x="91.35" y="554.48" width="0.9" height="0.9" fill="#8a8a8a"/>
<rect x="88.42" y="559.37" width="0.9" height="0.9" fill="#8a8a8a"/>
<rect x="94.72" y="551.38" width="0.9" height="0.9" fill="#b8b8b8"/>
<rect x="94.71" y="561.57" width="0.9" height="0.9" fill="#8a8a8a"/>
<rect x="88.66" y="550.41" width="0.9" height="0.9" fill="#8a8a8a"/>
<rect x="85.66" y="550.68" width="0.9" height="0.9" fill="#9a9a9a"/>
<rect x="84.14" y="549.28" width="0.9" height="0.9" fill="#b8b8b8"/>
<rect x="87.3" y="552.16" width="0.9" height="0.9" fill="#8a8a8a"/>
<rect x="84.64" y="571.35" width="0.9" height="0.9" fill="#9a9a9a"/>
<rect x="85.56" y="558.62" width="0.9" height="0.9" fill="#8a8a8a"/>
<rect x="91.8" y="555.79" width="0.9" height="0.9" fill="#b8b8b8"/>
<rect x="87.3" y="561.41" width="0.9" height="0.9" fill="#9a9a9a"/>
<rect x="84.75" y="556.19" width="0.9" height="0.9" fill="#9a9a9a"/>
<rect x="92.56" y="556.72" width="0.9" height="0.9" fill="#aaaaaa"/>
<rect x="90.78" y="556.97" width="0.9" height="0.9" fill="#b8b8b8"/>
<rect x="90.82" y="557.86" width="0.9" height="0.9" fill="#b8b8b8"/>
<rect x="90.88" y="553.13" width="0.9" height="0.9" fill="#8a8a8a"/>
<rect x="85.61" y="544.9" width="0.9" height="0.9" fill="#aaaaaa"/>
<rect x="86.77" y="551.16" width="0.9" height="0.9" fill="#aaaaaa"/>
<rect x="87.64" y="547.12" width="0.9" height="0.9" fill="#9a9a9a"/>
<rect x="84.99" y="555.53" width="0.9" height="0.9" fill="#9a9a9a"/>
<rect x="88.38" y="560.32" width="0.9" height="0.9" fill="#aaaaaa"/>
<rect x="92.87" y="561.59" width="0.9" height="0.9" fill="#9a9a9a"/>
<rect x="92.13" y="550.52" width="0.9" height="0.9" fill="#8a8a8a"/>
<rect x="90.4" y="554.15" width="0.9" height="0.9" fill="#b8b8b8"/>
<rect x="88.93" y="555.91" width="0.9" height="0.9" fill="#9a9a9a"/>
<rect x="81.9" y="560.98" width="0.9" height="0.9" fill="#9a9a9a"/>
<rect x="80.46" y="564.69" width="0.9" height="0.9" fill="#aaaaaa"/>
<rect x="86.31" y="531.29" width="0.9" height="0.9" fill="#9a9a9a"/>
<rect x="86.62" y="559.34" width="0.9" height="0.9" fill="#b8b8b8"/>
<rect x="94.52" y="557.46" width="0.9" height="0.9" fill="#b8b8b8"/>
<rect x="94.93" y="538.21" width="0.9" height="0.9" fill="#b8b8b8"/>
<rect x="88.17" y="555.86" width="0.9" height="0.9" fill="#aaaaaa"/>
<rect x="92.11" y="558.95" width="0.9" height="0.9" fill="#8a8a8a"/>
<rect x="80.96" y="550.98" width="0.9" height="0.9" fill="#b8b8b8"/>
<rect x="82.81" y="565.59" width="0.9" height="0.9" fill="#b8b8b8"/>
<rect x="93.99" y="561.13" width="0.9" height="0.9" fill="#9a9a9a"/>
<rect x="80.96" y="566.67" width="0.9" height="0.9" fill="#9a9a9a"/>
<rect x="84.73" y="565.65" width="0.9" height="0.9" fill="#b8b8b8"/>
<rect x="92.55" y="556.76" width="0.9" height="0.9" fill="#b8b8b8"/>
<rect x="89.16" y="555.87" width="0.9" height="0.9" fill="#8a8a8a"/>
<rect x="88.53" y="553.03" width="0.9" height="0.9" fill="#9a9a9a"/>
<rect x="87.84" y="540.43" width="0.9" height="0.9" fill="#aaaaaa"/>
<rect x="85.35" y="560.2" width="0.9" height="0.9" fill="#8a8a8a"/>
<rect x="87.45" y="566.48" width="0.9" height="0.9" fill="#aaaaaa"/>
<rect x="91.36" y="552.7" width="0.9" height="0.9" fill="#8a8a8a"/>
<rect x="91.25" y="556.18" width="0.9" height="0.9" fill="#b8b8b8"/>
<rect x="86.92" y="547.74" width="0.9" height="0.9" fill="#b8b8b8"/>
<rect x="93.56" y="534.1" width="0.9" height="0.9" fill="#d2d2d2"/>
<rect x="95.12" y="561.21" width="0.9" height="0.9" fill="#c8c8c8"/>
<rect x="93.45" y="539.46" width="0.9" height="0.9" fill="#dcdcdc"/>
<rect x="91.27" y="541.22" width="0.9" height="0.9" fill="#d2d2d2"/>
<rect x="94.65" y="545.74" width="0.9" height="0.9" fill="#dcdcdc"/>
<rect x="93.79" y="556.24" width="0.9" height="0.9" fill="#c8c8c8"/>
<rect x="90.04" y="556.69" width="0.9" height="0.9" fill="#c8c8c8"/>
<rect x="81.9" y="554.7" width="0.9" height="0.9" fill="#c8c8c8"/>
<rect x="103.37" y="551.09" width="0.9" height="0.9" fill="#c8c8c8"/>
<rect x="89.75" y="557.16" width="0.9" height="0.9" fill="#c8c8c8"/>
<rect x="72.93" y="566.19" width="0.9" height="0.9" fill="#d2d2d2"/>
<rect x="91.61" y="557.66" width="0.9" height="0.9" fill="#d2d2d2"/>
<rect x="82.92" y="544.16" width="0.9" height="0.9" fill="#dcdcdc"/>
<rect x="79.12" y="549.68" width="0.9" height="0.9" fill="#c8c8c8"/>
<rect x="91.01" y="546.02" width="0.9" height="0.9" fill="#d2d2d2"/>
<rect x="84.27" y="549.85" width="0.9" height="0.9" fill="#dcdcdc"/>
<rect x="89.55" y="563.06" width="0.9" height="0.9" fill="#c8c8c8"/>
<rect x="90.11" y="558.59" width="0.9" height="0.9" fill="#dcdcdc"/>
<rect x="90.9" y="556.45" width="0.9" height="0.9" fill="#d2d2d2"/>
<rect x="97.73" y="552.89" width="0.9" height="0.9" fill="#c8c8c8"/>
<rect x="88.24" y="550.05" width="0.9" height="0.9" fill="#d2d2d2"/>
<rect x="93.02" y="553.16" width="0.9" height="0.9" fill="#d2d2d2"/>
<rect x="93.49" y="549.02" width="0.9" height="0.9" fill="#d2d2d2"/>
<rect x="91.6" y="552.08" width="0.9" height="0.9" fill="#d2d2d2"/>
<rect x="90.22" y="556.28" width="0.9" height="0.9" fill="#dcdcdc"/>
<rect x="98.48" y="551.39" width="0.9" height="0.9" fill="#c8c8c8"/>
<rect x="80.94" y="566.38" width="0.9" height="0.9" fill="#d2d2d2"/>
<rect x="81.05" y="544.02" width="0.9" height="0.9" fill="#dcdcdc"/>
<rect x="92.9" y="551.98" width="0.9" height="0.9" fill="#dcdcdc"/>
<rect x="88.49" y="545.32" width="0.9" height="0.9" fill="#c8c8c8"/>
<rect x="87.56" y="557.05" width="0.9" height="0.9" fill="#c8c8c8"/>
<rect x="91.82" y="553.4" width="0.9" height="0.9" fill="#dcdcdc"/>
<rect x="87.46" y="548.45" width="0.9" height="0.9" fill="#c8c8c8"/>
<rect x="92.79" y="545.02" width="0.9" height="0.9" fill="#d2d2d2"/>
<rect x="92.23" y="560.55" width="0.9" height="0.9" fill="#c8c8c8"/>
<rect x="97.46" y="555.47" width="0.9" height="0.9" fill="#d2d2d2"/>
<rect x="92.77" y="555.01" width="0.9" height="0.9" fill="#d2d2d2"/>
<rect x="88.06" y="548.93" width="0.9" height="0.9" fill="#dcdcdc"/>
<rect x="93.27" y="556.32" width="0.9" height="0.9" fill="#dcdcdc"/>
<rect x="86.66" y="545.26" width="0.9" height="0.9" fill="#c8c8c8"/>
<rect x="86.79" y="564.15" width="0.9" height="0.9" fill="#d2d2d2"/>
<rect x="88.93" y="554.29" width="0.9" height="0.9" fill="#d2d2d2"/>
<rect x="86.02" y="546.34" width="0.9" height="0.9" fill="#d2d2d2"/>
<rect x="90.2" y="554.34" width="0.9" height="0.9" fill="#c8c8c8"/>
<rect x="98.11" y="532.27" width="0.9" height="0.9" fill="#d2d2d2"/>
<rect x="97.01" y="523.56" width="0.9" height="0.9" fill="#c8c8c8"/>
<rect x="103.73" y="523.95" width="0.9" height="0.9" fill="#c8c8c8"/>
<rect x="90.51" y="518.93" width="0.9" height="0.9" fill="#c8c8c8"/>
<rect x="90.1" y="524.19" width="0.9" height="0.9" fill="#dcdcdc"/>
<rect x="99.63" y="524.91" width="0.9" height="0.9" fill="#d2d2d2"/>
<rect x="105.1" y="525.07" width="0.9" height="0.9" fill="#c8c8c8"/>
<rect x="108.2" y="524.49" width="0.9" height="0.9" fill="#c8c8c8"/>
<rect x="105.61" y="534.06" width="0.9" height="0.9" fill="#c8c8c8"/>
<rect x="106.09" y="519.33" width="0.9" height="0.9" fill="#c8c8c8"/>
<rect x="94.41" y="522.12" width="0.9" height="0.9" fill="#c8c8c8"/>
<rect x="104.07" y="516.26" width="0.9" height="0.9" fill="#c8c8c8"/>
<line x1="78.3" y1="467.4" x2="78.3" y2="575.4" stroke="#8c8c8c" stroke-width="1.5"/>
<line x1="51.8" y1="540.4" x2="159.8" y2="540.4" stroke="#505050" stroke-width="1.2"/>
<line x1="48.4" y1="575.4" x2="51.8" y2="575.4" stroke="#333" stroke-width="1.4"/>
<line x1="50.1" y1="567.27" x2="51.8" y2="567.27" stroke="#666" stroke-width="0.9"/>
<line x1="50.1" y1="562.52" x2="51.8" y2="562.52" stroke="#666" stroke-width="0.9"/>
<line x1="50.1" y1="559.14" x2="51.8" y2="559.14" stroke="#666" stroke-width="0.9"/>
<line x1="50.1" y1="556.53" x2="51.8" y2="556.53" stroke="#666" stroke-width="0.9"/>
<line x1="50.1" y1="554.39" x2="51.8" y2="554.39" stroke="#666" stroke-width="0.9"/>
<line x1="50.1" y1="552.58" x2="51.8" y2="552.58" stroke="#666" stroke-width="0.9"/>
<line x1="50.1" y1="551.02" x2="51.8" y2="551.02" stroke="#666" stroke-width="0.9"/>
<line x1="50.1" y1="549.64" x2="51.8" y2="549.64" stroke="#666" stroke-width="0.9"/>
<text x="35.1" y="572.1" font-size="8" fill="#1a1a1a" style="stroke-width:0.25px" letter-spacing="-0.75">10</text><text x="41.5" y="569.4" font-size="4.8" fill="#1a1a1a" style="stroke-width:0.15px">0</text>
<line x1="48.4" y1="548.4" x2="51.8" y2="548.4" stroke="#333" stroke-width="1.4"/>
<line x1="50.1" y1="540.27" x2="51.8" y2="540.27" stroke="#666" stroke-width="0.9"/>
<line x1="50.1" y1="535.52" x2="51.8" y2="535.52" stroke="#666" stroke-width="0.9"/>
<line x1="50.1" y1="532.14" x2="51.8" y2="532.14" stroke="#666" stroke-width="0.9"/>
<line x1="50.1" y1="529.53" x2="51.8" y2="529.53" stroke="#666" stroke-width="0.9"/>
<line x1="50.1" y1="527.39" x2="51.8" y2="527.39" stroke="#666" stroke-width="0.9"/>
<line x1="50.1" y1="525.58" x2="51.8" y2="525.58" stroke="#666" stroke-width="0.9"/>
<line x1="50.1" y1="524.02" x2="51.8" y2="524.02" stroke="#666" stroke-width="0.9"/>
<line x1="50.1" y1="522.64" x2="51.8" y2="522.64" stroke="#666" stroke-width="0.9"/>
<text x="35.1" y="551.3" font-size="8" fill="#1a1a1a" style="stroke-width:0.25px" letter-spacing="-0.75">10</text><text x="41.5" y="548.6" font-size="4.8" fill="#1a1a1a" style="stroke-width:0.15px">1</text>
<line x1="48.4" y1="521.4" x2="51.8" y2="521.4" stroke="#333" stroke-width="1.4"/>
<line x1="50.1" y1="513.27" x2="51.8" y2="513.27" stroke="#666" stroke-width="0.9"/>
<line x1="50.1" y1="508.52" x2="51.8" y2="508.52" stroke="#666" stroke-width="0.9"/>
<line x1="50.1" y1="505.14" x2="51.8" y2="505.14" stroke="#666" stroke-width="0.9"/>
<line x1="50.1" y1="502.53" x2="51.8" y2="502.53" stroke="#666" stroke-width="0.9"/>
<line x1="50.1" y1="500.39" x2="51.8" y2="500.39" stroke="#666" stroke-width="0.9"/>
<line x1="50.1" y1="498.58" x2="51.8" y2="498.58" stroke="#666" stroke-width="0.9"/>
<line x1="50.1" y1="497.02" x2="51.8" y2="497.02" stroke="#666" stroke-width="0.9"/>
<line x1="50.1" y1="495.64" x2="51.8" y2="495.64" stroke="#666" stroke-width="0.9"/>
<text x="35.1" y="524.3" font-size="8" fill="#1a1a1a" style="stroke-width:0.25px" letter-spacing="-0.75">10</text><text x="41.5" y="521.6" font-size="4.8" fill="#1a1a1a" style="stroke-width:0.15px">2</text>
<line x1="48.4" y1="494.4" x2="51.8" y2="494.4" stroke="#333" stroke-width="1.4"/>
<line x1="50.1" y1="486.27" x2="51.8" y2="486.27" stroke="#666" stroke-width="0.9"/>
<line x1="50.1" y1="481.52" x2="51.8" y2="481.52" stroke="#666" stroke-width="0.9"/>
<line x1="50.1" y1="478.14" x2="51.8" y2="478.14" stroke="#666" stroke-width="0.9"/>
<line x1="50.1" y1="475.53" x2="51.8" y2="475.53" stroke="#666" stroke-width="0.9"/>
<line x1="50.1" y1="473.39" x2="51.8" y2="473.39" stroke="#666" stroke-width="0.9"/>
<line x1="50.1" y1="471.58" x2="51.8" y2="471.58" stroke="#666" stroke-width="0.9"/>
<line x1="50.1" y1="470.02" x2="51.8" y2="470.02" stroke="#666" stroke-width="0.9"/>
<line x1="50.1" y1="468.64" x2="51.8" y2="468.64" stroke="#666" stroke-width="0.9"/>
<text x="35.1" y="497.3" font-size="8" fill="#1a1a1a" style="stroke-width:0.25px" letter-spacing="-0.75">10</text><text x="41.5" y="494.6" font-size="4.8" fill="#1a1a1a" style="stroke-width:0.15px">3</text>
<line x1="48.4" y1="467.4" x2="51.8" y2="467.4" stroke="#333" stroke-width="1.4"/>
<text x="35.1" y="473" font-size="8" fill="#1a1a1a" style="stroke-width:0.25px" letter-spacing="-0.75">10</text><text x="41.5" y="470.3" font-size="4.8" fill="#1a1a1a" style="stroke-width:0.15px">4</text>
<line x1="51.8" y1="575.4" x2="51.8" y2="578.2" stroke="#222" stroke-width="1.6"/>
<line x1="59.93" y1="575.4" x2="59.93" y2="577.4" stroke="#444" stroke-width="1.1"/>
<line x1="64.68" y1="575.4" x2="64.68" y2="577.4" stroke="#444" stroke-width="1.1"/>
<line x1="68.06" y1="575.4" x2="68.06" y2="577.4" stroke="#444" stroke-width="1.1"/>
<line x1="70.67" y1="575.4" x2="70.67" y2="577.4" stroke="#444" stroke-width="1.1"/>
<line x1="72.81" y1="575.4" x2="72.81" y2="577.4" stroke="#444" stroke-width="1.1"/>
<line x1="74.62" y1="575.4" x2="74.62" y2="577.4" stroke="#444" stroke-width="1.1"/>
<line x1="76.18" y1="575.4" x2="76.18" y2="577.4" stroke="#444" stroke-width="1.1"/>
<line x1="77.56" y1="575.4" x2="77.56" y2="577.4" stroke="#444" stroke-width="1.1"/>
<text x="49.2" y="587.6" font-size="8" fill="#1a1a1a" style="stroke-width:0.25px" letter-spacing="-0.75">10</text><text x="55.8" y="584.9" font-size="4.8" fill="#1a1a1a" style="stroke-width:0.15px">0</text>
<line x1="78.8" y1="575.4" x2="78.8" y2="578.2" stroke="#222" stroke-width="1.6"/>
<line x1="86.93" y1="575.4" x2="86.93" y2="577.4" stroke="#444" stroke-width="1.1"/>
<line x1="91.68" y1="575.4" x2="91.68" y2="577.4" stroke="#444" stroke-width="1.1"/>
<line x1="95.06" y1="575.4" x2="95.06" y2="577.4" stroke="#444" stroke-width="1.1"/>
<line x1="97.67" y1="575.4" x2="97.67" y2="577.4" stroke="#444" stroke-width="1.1"/>
<line x1="99.81" y1="575.4" x2="99.81" y2="577.4" stroke="#444" stroke-width="1.1"/>
<line x1="101.62" y1="575.4" x2="101.62" y2="577.4" stroke="#444" stroke-width="1.1"/>
<line x1="103.18" y1="575.4" x2="103.18" y2="577.4" stroke="#444" stroke-width="1.1"/>
<line x1="104.56" y1="575.4" x2="104.56" y2="577.4" stroke="#444" stroke-width="1.1"/>
<text x="75.4" y="587.6" font-size="8" fill="#1a1a1a" style="stroke-width:0.25px" letter-spacing="-0.75">10</text><text x="82" y="584.9" font-size="4.8" fill="#1a1a1a" style="stroke-width:0.15px">1</text>
<line x1="105.8" y1="575.4" x2="105.8" y2="578.2" stroke="#222" stroke-width="1.6"/>
<line x1="113.93" y1="575.4" x2="113.93" y2="577.4" stroke="#444" stroke-width="1.1"/>
<line x1="118.68" y1="575.4" x2="118.68" y2="577.4" stroke="#444" stroke-width="1.1"/>
<line x1="122.06" y1="575.4" x2="122.06" y2="577.4" stroke="#444" stroke-width="1.1"/>
<line x1="124.67" y1="575.4" x2="124.67" y2="577.4" stroke="#444" stroke-width="1.1"/>
<line x1="126.81" y1="575.4" x2="126.81" y2="577.4" stroke="#444" stroke-width="1.1"/>
<line x1="128.62" y1="575.4" x2="128.62" y2="577.4" stroke="#444" stroke-width="1.1"/>
<line x1="130.18" y1="575.4" x2="130.18" y2="577.4" stroke="#444" stroke-width="1.1"/>
<line x1="131.56" y1="575.4" x2="131.56" y2="577.4" stroke="#444" stroke-width="1.1"/>
<text x="100.5" y="587.6" font-size="8" fill="#1a1a1a" style="stroke-width:0.25px" letter-spacing="-0.75">10</text><text x="107.1" y="584.9" font-size="4.8" fill="#1a1a1a" style="stroke-width:0.15px">2</text>
<line x1="132.8" y1="575.4" x2="132.8" y2="578.2" stroke="#222" stroke-width="1.6"/>
<line x1="140.93" y1="575.4" x2="140.93" y2="577.4" stroke="#444" stroke-width="1.1"/>
<line x1="145.68" y1="575.4" x2="145.68" y2="577.4" stroke="#444" stroke-width="1.1"/>
<line x1="149.06" y1="575.4" x2="149.06" y2="577.4" stroke="#444" stroke-width="1.1"/>
<line x1="151.67" y1="575.4" x2="151.67" y2="577.4" stroke="#444" stroke-width="1.1"/>
<line x1="153.81" y1="575.4" x2="153.81" y2="577.4" stroke="#444" stroke-width="1.1"/>
<line x1="155.62" y1="575.4" x2="155.62" y2="577.4" stroke="#444" stroke-width="1.1"/>
<line x1="157.18" y1="575.4" x2="157.18" y2="577.4" stroke="#444" stroke-width="1.1"/>
<line x1="158.56" y1="575.4" x2="158.56" y2="577.4" stroke="#444" stroke-width="1.1"/>
<text x="126.3" y="587.6" font-size="8" fill="#1a1a1a" style="stroke-width:0.25px" letter-spacing="-0.75">10</text><text x="132.9" y="584.9" font-size="4.8" fill="#1a1a1a" style="stroke-width:0.15px">3</text>
<line x1="159.8" y1="575.4" x2="159.8" y2="578.2" stroke="#222" stroke-width="1.6"/>
<text x="149.2" y="587.6" font-size="8" fill="#1a1a1a" style="stroke-width:0.25px" letter-spacing="-0.75">10</text><text x="155.8" y="584.9" font-size="4.8" fill="#1a1a1a" style="stroke-width:0.15px">4</text>
<text x="149.3" y="483.7" font-size="9" text-anchor="end" fill="#2a2a2a" style="stroke-width:0.25px">7.8%</text>
<rect x="185.2" y="467.4" width="108" height="108" fill="none" stroke="#c4c4c4" stroke-width="1"/>
<rect x="215.76" y="552.05" width="0.9" height="0.9" fill="#b8b8b8"/>
<rect x="223.69" y="548.42" width="0.9" height="0.9" fill="#b8b8b8"/>
<rect x="231.75" y="544.56" width="0.9" height="0.9" fill="#b8b8b8"/>
<rect x="230.43" y="540.49" width="0.9" height="0.9" fill="#aaaaaa"/>
<rect x="232.85" y="542.24" width="0.9" height="0.9" fill="#9a9a9a"/>
<rect x="236.3" y="536.05" width="0.9" height="0.9" fill="#8a8a8a"/>
<rect x="222.95" y="547.16" width="0.9" height="0.9" fill="#b8b8b8"/>
<rect x="219.63" y="552.01" width="0.9" height="0.9" fill="#aaaaaa"/>
<rect x="222.79" y="547.93" width="0.9" height="0.9" fill="#9a9a9a"/>
<rect x="222.53" y="557.59" width="0.9" height="0.9" fill="#b8b8b8"/>
<rect x="224.3" y="550.47" width="0.9" height="0.9" fill="#8a8a8a"/>
<rect x="220.49" y="550.49" width="0.9" height="0.9" fill="#9a9a9a"/>
<rect x="221.85" y="557.13" width="0.9" height="0.9" fill="#b8b8b8"/>
<rect x="228.41" y="534.09" width="0.9" height="0.9" fill="#b8b8b8"/>
<rect x="231.45" y="542.82" width="0.9" height="0.9" fill="#b8b8b8"/>
<rect x="225.44" y="558.24" width="0.9" height="0.9" fill="#8a8a8a"/>
<rect x="231.41" y="541.55" width="0.9" height="0.9" fill="#aaaaaa"/>
<rect x="225.37" y="540.97" width="0.9" height="0.9" fill="#8a8a8a"/>
<rect x="221.25" y="540.24" width="0.9" height="0.9" fill="#9a9a9a"/>
<rect x="230.32" y="542.56" width="0.9" height="0.9" fill="#8a8a8a"/>
<rect x="242.34" y="543.6" width="0.9" height="0.9" fill="#b8b8b8"/>
<rect x="231.27" y="553.03" width="0.9" height="0.9" fill="#9a9a9a"/>
<rect x="219.58" y="547.05" width="0.9" height="0.9" fill="#9a9a9a"/>
<rect x="234.17" y="539.33" width="0.9" height="0.9" fill="#aaaaaa"/>
<rect x="240.54" y="540.17" width="0.9" height="0.9" fill="#aaaaaa"/>
<rect x="231.3" y="536.53" width="0.9" height="0.9" fill="#aaaaaa"/>
<rect x="214.83" y="563.6" width="0.9" height="0.9" fill="#9a9a9a"/>
<rect x="218.8" y="553.07" width="0.9" height="0.9" fill="#9a9a9a"/>
<rect x="228.14" y="546.92" width="0.9" height="0.9" fill="#9a9a9a"/>
<rect x="223.84" y="556.8" width="0.9" height="0.9" fill="#aaaaaa"/>
<rect x="216.46" y="548.32" width="0.9" height="0.9" fill="#9a9a9a"/>
<rect x="226.73" y="541.97" width="0.9" height="0.9" fill="#8a8a8a"/>
<rect x="222.08" y="548.77" width="0.9" height="0.9" fill="#b8b8b8"/>
<rect x="219.34" y="554.44" width="0.9" height="0.9" fill="#8a8a8a"/>
<rect x="231.94" y="548.41" width="0.9" height="0.9" fill="#b8b8b8"/>
<rect x="224.45" y="543.76" width="0.9" height="0.9" fill="#b8b8b8"/>
<rect x="235.37" y="534.56" width="0.9" height="0.9" fill="#aaaaaa"/>
<rect x="228.01" y="547.87" width="0.9" height="0.9" fill="#9a9a9a"/>
<rect x="237.07" y="542.88" width="0.9" height="0.9" fill="#8a8a8a"/>
<rect x="229.74" y="550.9" width="0.9" height="0.9" fill="#aaaaaa"/>
<rect x="210.09" y="555.27" width="0.9" height="0.9" fill="#aaaaaa"/>
<rect x="221.61" y="543" width="0.9" height="0.9" fill="#9a9a9a"/>
<rect x="236.39" y="541.35" width="0.9" height="0.9" fill="#b8b8b8"/>
<rect x="224.72" y="553.22" width="0.9" height="0.9" fill="#8a8a8a"/>
<rect x="232.54" y="542.69" width="0.9" height="0.9" fill="#8a8a8a"/>
<rect x="228.45" y="544.84" width="0.9" height="0.9" fill="#aaaaaa"/>
<rect x="229.39" y="551.35" width="0.9" height="0.9" fill="#9a9a9a"/>
<rect x="225.22" y="552.31" width="0.9" height="0.9" fill="#9a9a9a"/>
<rect x="234.67" y="545.29" width="0.9" height="0.9" fill="#b8b8b8"/>
<rect x="228.99" y="544.98" width="0.9" height="0.9" fill="#9a9a9a"/>
<rect x="222.88" y="545.29" width="0.9" height="0.9" fill="#8a8a8a"/>
<rect x="215.36" y="552.44" width="0.9" height="0.9" fill="#aaaaaa"/>
<rect x="225.75" y="551.65" width="0.9" height="0.9" fill="#8a8a8a"/>
<rect x="240.21" y="532.73" width="0.9" height="0.9" fill="#aaaaaa"/>
<rect x="219.27" y="552.54" width="0.9" height="0.9" fill="#b8b8b8"/>
<rect x="235.15" y="550.27" width="0.9" height="0.9" fill="#8a8a8a"/>
<rect x="229.5" y="543.9" width="0.9" height="0.9" fill="#9a9a9a"/>
<rect x="229.28" y="545.99" width="0.9" height="0.9" fill="#8a8a8a"/>
<rect x="235.66" y="535.37" width="0.9" height="0.9" fill="#9a9a9a"/>
<rect x="232.12" y="543.21" width="0.9" height="0.9" fill="#b8b8b8"/>
<rect x="227.54" y="542.12" width="0.9" height="0.9" fill="#aaaaaa"/>
<rect x="237.29" y="536.17" width="0.9" height="0.9" fill="#b8b8b8"/>
<rect x="227.5" y="545.34" width="0.9" height="0.9" fill="#b8b8b8"/>
<rect x="224.16" y="543.07" width="0.9" height="0.9" fill="#b8b8b8"/>
<rect x="246.65" y="540.01" width="0.9" height="0.9" fill="#aaaaaa"/>
<rect x="229.09" y="545.8" width="0.9" height="0.9" fill="#aaaaaa"/>
<rect x="233.6" y="527.69" width="0.9" height="0.9" fill="#aaaaaa"/>
<rect x="224.42" y="545.15" width="0.9" height="0.9" fill="#b8b8b8"/>
<rect x="216.22" y="547.76" width="0.9" height="0.9" fill="#aaaaaa"/>
<rect x="231.39" y="555.81" width="0.9" height="0.9" fill="#9a9a9a"/>
<rect x="235.93" y="538.5" width="0.9" height="0.9" fill="#9a9a9a"/>
<rect x="230.1" y="547.49" width="0.9" height="0.9" fill="#9a9a9a"/>
<rect x="235.22" y="531.42" width="0.9" height="0.9" fill="#aaaaaa"/>
<rect x="233.07" y="544.68" width="0.9" height="0.9" fill="#9a9a9a"/>
<rect x="224.11" y="560.08" width="0.9" height="0.9" fill="#b8b8b8"/>
<rect x="221.65" y="555.75" width="0.9" height="0.9" fill="#8a8a8a"/>
<rect x="229.18" y="538" width="0.9" height="0.9" fill="#9a9a9a"/>
<rect x="222.3" y="550.85" width="0.9" height="0.9" fill="#9a9a9a"/>
<rect x="224.72" y="555.73" width="0.9" height="0.9" fill="#9a9a9a"/>
<rect x="229.43" y="544.66" width="0.9" height="0.9" fill="#8a8a8a"/>
<rect x="224.17" y="547.92" width="0.9" height="0.9" fill="#9a9a9a"/>
<rect x="226.78" y="545.47" width="0.9" height="0.9" fill="#9a9a9a"/>
<rect x="220.78" y="546.38" width="0.9" height="0.9" fill="#8a8a8a"/>
<rect x="226.63" y="544.79" width="0.9" height="0.9" fill="#aaaaaa"/>
<rect x="240.21" y="544.56" width="0.9" height="0.9" fill="#8a8a8a"/>
<rect x="231.36" y="532.78" width="0.9" height="0.9" fill="#b8b8b8"/>
<rect x="232.46" y="542.07" width="0.9" height="0.9" fill="#8a8a8a"/>
<rect x="243.56" y="527.19" width="0.9" height="0.9" fill="#8a8a8a"/>
<rect x="227.64" y="537.25" width="0.9" height="0.9" fill="#aaaaaa"/>
<rect x="225.18" y="549.87" width="0.9" height="0.9" fill="#9a9a9a"/>
<rect x="229.38" y="549.46" width="0.9" height="0.9" fill="#aaaaaa"/>
<rect x="232.77" y="539.42" width="0.9" height="0.9" fill="#aaaaaa"/>
<rect x="239.02" y="533.47" width="0.9" height="0.9" fill="#aaaaaa"/>
<rect x="224.57" y="540.93" width="0.9" height="0.9" fill="#b8b8b8"/>
<rect x="229.17" y="536.09" width="0.9" height="0.9" fill="#8a8a8a"/>
<rect x="227.56" y="544.33" width="0.9" height="0.9" fill="#8a8a8a"/>
<rect x="226.98" y="555.64" width="0.9" height="0.9" fill="#9a9a9a"/>
<rect x="219.63" y="544.53" width="0.9" height="0.9" fill="#aaaaaa"/>
<rect x="228.29" y="545.31" width="0.9" height="0.9" fill="#9a9a9a"/>
<rect x="230.95" y="552.4" width="0.9" height="0.9" fill="#8a8a8a"/>
<rect x="234.86" y="536.03" width="0.9" height="0.9" fill="#b8b8b8"/>
<rect x="218.61" y="546.44" width="0.9" height="0.9" fill="#b8b8b8"/>
<rect x="211.31" y="559.26" width="0.9" height="0.9" fill="#aaaaaa"/>
<rect x="224.08" y="548.98" width="0.9" height="0.9" fill="#9a9a9a"/>
<rect x="231.02" y="539.3" width="0.9" height="0.9" fill="#9a9a9a"/>
<rect x="237.33" y="538.59" width="0.9" height="0.9" fill="#8a8a8a"/>
<rect x="210.76" y="570.79" width="0.9" height="0.9" fill="#8a8a8a"/>
<rect x="222.02" y="549.12" width="0.9" height="0.9" fill="#b8b8b8"/>
<rect x="236.07" y="527.82" width="0.9" height="0.9" fill="#8a8a8a"/>
<rect x="222.81" y="557.32" width="0.9" height="0.9" fill="#aaaaaa"/>
<rect x="231.68" y="545.42" width="0.9" height="0.9" fill="#9a9a9a"/>
<rect x="223.88" y="560.98" width="0.9" height="0.9" fill="#9a9a9a"/>
<rect x="230.26" y="541" width="0.9" height="0.9" fill="#8a8a8a"/>
<rect x="227.36" y="551.28" width="0.9" height="0.9" fill="#9a9a9a"/>
<rect x="229.67" y="537.51" width="0.9" height="0.9" fill="#aaaaaa"/>
<rect x="234.09" y="543.35" width="0.9" height="0.9" fill="#aaaaaa"/>
<rect x="224.54" y="548.53" width="0.9" height="0.9" fill="#b8b8b8"/>
<rect x="218.47" y="550.43" width="0.9" height="0.9" fill="#9a9a9a"/>
<rect x="232.35" y="550.77" width="0.9" height="0.9" fill="#9a9a9a"/>
<rect x="216.67" y="542.86" width="0.9" height="0.9" fill="#aaaaaa"/>
<rect x="221.89" y="550.11" width="0.9" height="0.9" fill="#9a9a9a"/>
<rect x="228.08" y="549.21" width="0.9" height="0.9" fill="#8a8a8a"/>
<rect x="236.45" y="542.24" width="0.9" height="0.9" fill="#9a9a9a"/>
<rect x="221.73" y="567.29" width="0.9" height="0.9" fill="#aaaaaa"/>
<rect x="223.89" y="543.84" width="0.9" height="0.9" fill="#9a9a9a"/>
<rect x="242.45" y="534.8" width="0.9" height="0.9" fill="#aaaaaa"/>
<rect x="232.66" y="545.44" width="0.9" height="0.9" fill="#8a8a8a"/>
<rect x="239.89" y="529.85" width="0.9" height="0.9" fill="#b8b8b8"/>
<rect x="222.02" y="546.16" width="0.9" height="0.9" fill="#aaaaaa"/>
<rect x="225.28" y="550.07" width="0.9" height="0.9" fill="#b8b8b8"/>
<rect x="232.41" y="539.4" width="0.9" height="0.9" fill="#b8b8b8"/>
<rect x="221.53" y="545.72" width="0.9" height="0.9" fill="#b8b8b8"/>
<rect x="228.92" y="535.7" width="0.9" height="0.9" fill="#9a9a9a"/>
<rect x="220.22" y="547.38" width="0.9" height="0.9" fill="#b8b8b8"/>
<rect x="224.93" y="551.89" width="0.9" height="0.9" fill="#8a8a8a"/>
<rect x="229.93" y="539.55" width="0.9" height="0.9" fill="#b8b8b8"/>
<rect x="221.66" y="544.84" width="0.9" height="0.9" fill="#aaaaaa"/>
<rect x="228.88" y="537.77" width="0.9" height="0.9" fill="#8a8a8a"/>
<rect x="221.38" y="549.78" width="0.9" height="0.9" fill="#9a9a9a"/>
<rect x="230.3" y="538.41" width="0.9" height="0.9" fill="#8a8a8a"/>
<rect x="225.26" y="554.36" width="0.9" height="0.9" fill="#8a8a8a"/>
<rect x="236.04" y="536.2" width="0.9" height="0.9" fill="#9a9a9a"/>
<rect x="217.17" y="544.02" width="0.9" height="0.9" fill="#9a9a9a"/>
<rect x="225.15" y="549" width="0.9" height="0.9" fill="#b8b8b8"/>
<rect x="217.74" y="556.96" width="0.9" height="0.9" fill="#8a8a8a"/>
<rect x="216.3" y="551.84" width="0.9" height="0.9" fill="#aaaaaa"/>
<rect x="220.27" y="565.14" width="0.9" height="0.9" fill="#9a9a9a"/>
<rect x="231.57" y="540.13" width="0.9" height="0.9" fill="#8a8a8a"/>
<rect x="222.5" y="543.69" width="0.9" height="0.9" fill="#8a8a8a"/>
<rect x="231.1" y="547.81" width="0.9" height="0.9" fill="#8a8a8a"/>
<rect x="234.32" y="537.16" width="0.9" height="0.9" fill="#b8b8b8"/>
<rect x="218.45" y="551.31" width="0.9" height="0.9" fill="#aaaaaa"/>
<rect x="233.58" y="541.3" width="0.9" height="0.9" fill="#b8b8b8"/>
<rect x="233.15" y="535.1" width="0.9" height="0.9" fill="#9a9a9a"/>
<rect x="242.5" y="524.49" width="0.9" height="0.9" fill="#b8b8b8"/>
<rect x="230.39" y="545.58" width="0.9" height="0.9" fill="#8a8a8a"/>
<rect x="226.72" y="538.11" width="0.9" height="0.9" fill="#b8b8b8"/>
<rect x="218.13" y="550.65" width="0.9" height="0.9" fill="#9a9a9a"/>
<rect x="226.69" y="555.05" width="0.9" height="0.9" fill="#b8b8b8"/>
<rect x="223.78" y="552.44" width="0.9" height="0.9" fill="#9a9a9a"/>
<rect x="225.62" y="541.12" width="0.9" height="0.9" fill="#9a9a9a"/>
<rect x="230.52" y="548.51" width="0.9" height="0.9" fill="#aaaaaa"/>
<rect x="236.19" y="532.84" width="0.9" height="0.9" fill="#b8b8b8"/>
<rect x="237.39" y="532.45" width="0.9" height="0.9" fill="#aaaaaa"/>
<rect x="226.37" y="555.48" width="0.9" height="0.9" fill="#aaaaaa"/>
<rect x="222.34" y="554.25" width="0.9" height="0.9" fill="#8a8a8a"/>
<rect x="222.42" y="547.71" width="0.9" height="0.9" fill="#aaaaaa"/>
<rect x="228.33" y="543.07" width="0.9" height="0.9" fill="#aaaaaa"/>
<rect x="226.93" y="543.2" width="0.9" height="0.9" fill="#aaaaaa"/>
<rect x="226.9" y="546.05" width="0.9" height="0.9" fill="#8a8a8a"/>
<rect x="229.78" y="545.48" width="0.9" height="0.9" fill="#aaaaaa"/>
<rect x="229.5" y="546.48" width="0.9" height="0.9" fill="#9a9a9a"/>
<rect x="228.62" y="541.04" width="0.9" height="0.9" fill="#b8b8b8"/>
<rect x="227.63" y="549.17" width="0.9" height="0.9" fill="#b8b8b8"/>
<rect x="227.01" y="542.76" width="0.9" height="0.9" fill="#8a8a8a"/>
<rect x="215.95" y="549.55" width="0.9" height="0.9" fill="#aaaaaa"/>
<rect x="235.63" y="544.72" width="0.9" height="0.9" fill="#8a8a8a"/>
<rect x="224.19" y="543.35" width="0.9" height="0.9" fill="#8a8a8a"/>
<rect x="222.85" y="550.78" width="0.9" height="0.9" fill="#9a9a9a"/>
<rect x="227.8" y="538.78" width="0.9" height="0.9" fill="#8a8a8a"/>
<rect x="216.12" y="563.48" width="0.9" height="0.9" fill="#b8b8b8"/>
<rect x="230.03" y="546.69" width="0.9" height="0.9" fill="#8a8a8a"/>
<rect x="233.15" y="543.31" width="0.9" height="0.9" fill="#b8b8b8"/>
<rect x="216.97" y="549.47" width="0.9" height="0.9" fill="#aaaaaa"/>
<rect x="224.52" y="546.39" width="0.9" height="0.9" fill="#aaaaaa"/>
<rect x="226.49" y="546.26" width="0.9" height="0.9" fill="#8a8a8a"/>
<rect x="215.6" y="548.23" width="0.9" height="0.9" fill="#aaaaaa"/>
<rect x="227.58" y="543.13" width="0.9" height="0.9" fill="#b8b8b8"/>
<rect x="216.31" y="563.16" width="0.9" height="0.9" fill="#8a8a8a"/>
<rect x="232.66" y="545.82" width="0.9" height="0.9" fill="#9a9a9a"/>
<rect x="227.38" y="557.88" width="0.9" height="0.9" fill="#aaaaaa"/>
<rect x="227.26" y="556.46" width="0.9" height="0.9" fill="#9a9a9a"/>
<rect x="229.78" y="549.06" width="0.9" height="0.9" fill="#aaaaaa"/>
<rect x="215.7" y="558.31" width="0.9" height="0.9" fill="#aaaaaa"/>
<rect x="226.83" y="553.37" width="0.9" height="0.9" fill="#aaaaaa"/>
<rect x="223.31" y="551.83" width="0.9" height="0.9" fill="#aaaaaa"/>
<rect x="235.63" y="533.16" width="0.9" height="0.9" fill="#8a8a8a"/>
<rect x="228.01" y="550.63" width="0.9" height="0.9" fill="#aaaaaa"/>
<rect x="245.14" y="534.7" width="0.9" height="0.9" fill="#8a8a8a"/>
<rect x="231.18" y="540.71" width="0.9" height="0.9" fill="#dcdcdc"/>
<rect x="222.21" y="551.87" width="0.9" height="0.9" fill="#dcdcdc"/>
<rect x="240.06" y="534.38" width="0.9" height="0.9" fill="#c8c8c8"/>
<rect x="249.64" y="524.52" width="0.9" height="0.9" fill="#d2d2d2"/>
<rect x="217.95" y="551.7" width="0.9" height="0.9" fill="#dcdcdc"/>
<rect x="238.32" y="526.79" width="0.9" height="0.9" fill="#dcdcdc"/>
<rect x="245.35" y="536.69" width="0.9" height="0.9" fill="#dcdcdc"/>
<rect x="217.35" y="553.12" width="0.9" height="0.9" fill="#c8c8c8"/>
<rect x="245.31" y="528.36" width="0.9" height="0.9" fill="#dcdcdc"/>
<rect x="230.11" y="540.32" width="0.9" height="0.9" fill="#c8c8c8"/>
<rect x="234.38" y="531.68" width="0.9" height="0.9" fill="#c8c8c8"/>
<rect x="239.04" y="525.72" width="0.9" height="0.9" fill="#d2d2d2"/>
<rect x="233.33" y="536.75" width="0.9" height="0.9" fill="#d2d2d2"/>
<rect x="224.54" y="549.29" width="0.9" height="0.9" fill="#d2d2d2"/>
<rect x="234.05" y="542.11" width="0.9" height="0.9" fill="#c8c8c8"/>
<rect x="223.87" y="559.07" width="0.9" height="0.9" fill="#c8c8c8"/>
<rect x="221.78" y="556" width="0.9" height="0.9" fill="#c8c8c8"/>
<rect x="228.38" y="536.91" width="0.9" height="0.9" fill="#dcdcdc"/>
<rect x="237.5" y="529.9" width="0.9" height="0.9" fill="#c8c8c8"/>
<rect x="221.35" y="544.35" width="0.9" height="0.9" fill="#dcdcdc"/>
<rect x="240.91" y="529.34" width="0.9" height="0.9" fill="#d2d2d2"/>
<rect x="228.04" y="546.36" width="0.9" height="0.9" fill="#d2d2d2"/>
<rect x="235.8" y="542.93" width="0.9" height="0.9" fill="#c8c8c8"/>
<rect x="231.25" y="543.99" width="0.9" height="0.9" fill="#dcdcdc"/>
<rect x="256.55" y="528.02" width="0.9" height="0.9" fill="#c8c8c8"/>
<rect x="235.24" y="543.09" width="0.9" height="0.9" fill="#d2d2d2"/>
<rect x="246.28" y="525.4" width="0.9" height="0.9" fill="#c8c8c8"/>
<rect x="221.06" y="561.75" width="0.9" height="0.9" fill="#c8c8c8"/>
<rect x="228.55" y="559.19" width="0.9" height="0.9" fill="#dcdcdc"/>
<rect x="234.36" y="526.68" width="0.9" height="0.9" fill="#c8c8c8"/>
<rect x="234.97" y="550.68" width="0.9" height="0.9" fill="#d2d2d2"/>
<rect x="215.63" y="569.53" width="0.9" height="0.9" fill="#d2d2d2"/>
<rect x="233.58" y="538.65" width="0.9" height="0.9" fill="#c8c8c8"/>
<rect x="233.52" y="540.53" width="0.9" height="0.9" fill="#dcdcdc"/>
<rect x="221.33" y="543.74" width="0.9" height="0.9" fill="#d2d2d2"/>
<rect x="234.02" y="554.59" width="0.9" height="0.9" fill="#c8c8c8"/>
<rect x="245.15" y="520.19" width="0.9" height="0.9" fill="#dcdcdc"/>
<rect x="241.23" y="533.76" width="0.9" height="0.9" fill="#dcdcdc"/>
<rect x="225.34" y="540.09" width="0.9" height="0.9" fill="#c8c8c8"/>
<rect x="248.03" y="535.32" width="0.9" height="0.9" fill="#d2d2d2"/>
<rect x="236.05" y="535.39" width="0.9" height="0.9" fill="#d2d2d2"/>
<rect x="218.63" y="562.44" width="0.9" height="0.9" fill="#d2d2d2"/>
<rect x="243.14" y="521.88" width="0.9" height="0.9" fill="#dcdcdc"/>
<rect x="231.89" y="549.49" width="0.9" height="0.9" fill="#dcdcdc"/>
<rect x="243.83" y="524.35" width="0.9" height="0.9" fill="#dcdcdc"/>
<rect x="231.96" y="554.21" width="0.9" height="0.9" fill="#c8c8c8"/>
<rect x="231.98" y="530.72" width="0.9" height="0.9" fill="#d2d2d2"/>
<rect x="205.37" y="563.63" width="0.9" height="0.9" fill="#c8c8c8"/>
<rect x="227.87" y="558.36" width="0.9" height="0.9" fill="#dcdcdc"/>
<rect x="229.38" y="538.67" width="0.9" height="0.9" fill="#d2d2d2"/>
<rect x="232.17" y="542.74" width="0.9" height="0.9" fill="#d2d2d2"/>
<rect x="234.21" y="545.25" width="0.9" height="0.9" fill="#c8c8c8"/>
<rect x="233.43" y="545.81" width="0.9" height="0.9" fill="#dcdcdc"/>
<rect x="256.28" y="532.01" width="0.9" height="0.9" fill="#dcdcdc"/>
<rect x="214.81" y="544.87" width="0.9" height="0.9" fill="#d2d2d2"/>
<rect x="220.4" y="554.98" width="0.9" height="0.9" fill="#d2d2d2"/>
<rect x="230.61" y="537.89" width="0.9" height="0.9" fill="#dcdcdc"/>
<rect x="236.18" y="533.9" width="0.9" height="0.9" fill="#dcdcdc"/>
<rect x="241.65" y="533.24" width="0.9" height="0.9" fill="#dcdcdc"/>
<rect x="237.28" y="542.78" width="0.9" height="0.9" fill="#c8c8c8"/>
<rect x="229.32" y="535.31" width="0.9" height="0.9" fill="#c8c8c8"/>
<rect x="223.25" y="551.8" width="0.9" height="0.9" fill="#c8c8c8"/>
<rect x="239.45" y="545.58" width="0.9" height="0.9" fill="#d2d2d2"/>
<rect x="235.9" y="529.33" width="0.9" height="0.9" fill="#d2d2d2"/>
<rect x="226.18" y="549.78" width="0.9" height="0.9" fill="#c8c8c8"/>
<rect x="236.72" y="542.05" width="0.9" height="0.9" fill="#dcdcdc"/>
<rect x="235.32" y="550.65" width="0.9" height="0.9" fill="#d2d2d2"/>
<rect x="226.94" y="555.92" width="0.9" height="0.9" fill="#c8c8c8"/>
<rect x="243.24" y="550.04" width="0.9" height="0.9" fill="#d2d2d2"/>
<rect x="230.78" y="547.33" width="0.9" height="0.9" fill="#dcdcdc"/>
<rect x="229.04" y="547.22" width="0.9" height="0.9" fill="#d2d2d2"/>
<rect x="223.09" y="548.88" width="0.9" height="0.9" fill="#dcdcdc"/>
<rect x="227.73" y="545.26" width="0.9" height="0.9" fill="#c8c8c8"/>
<rect x="248.4" y="519.67" width="0.9" height="0.9" fill="#d2d2d2"/>
<rect x="225.26" y="547.7" width="0.9" height="0.9" fill="#d2d2d2"/>
<rect x="218.84" y="570.44" width="0.9" height="0.9" fill="#dcdcdc"/>
<rect x="229.99" y="521.9" width="0.9" height="0.9" fill="#d2d2d2"/>
<rect x="232.68" y="534.02" width="0.9" height="0.9" fill="#c8c8c8"/>
<rect x="231.34" y="544.89" width="0.9" height="0.9" fill="#c8c8c8"/>
<rect x="212.54" y="560.89" width="0.9" height="0.9" fill="#d2d2d2"/>
<rect x="216.42" y="564.44" width="0.9" height="0.9" fill="#c8c8c8"/>
<rect x="234.72" y="528.09" width="0.9" height="0.9" fill="#c8c8c8"/>
<rect x="229.01" y="542.19" width="0.9" height="0.9" fill="#d2d2d2"/>
<rect x="218.16" y="555" width="0.9" height="0.9" fill="#dcdcdc"/>
<rect x="226.49" y="549.37" width="0.9" height="0.9" fill="#c8c8c8"/>
<rect x="230.26" y="549.95" width="0.9" height="0.9" fill="#dcdcdc"/>
<rect x="233.74" y="542.85" width="0.9" height="0.9" fill="#d2d2d2"/>
<rect x="234.16" y="538.31" width="0.9" height="0.9" fill="#dcdcdc"/>
<rect x="240.21" y="520.97" width="0.9" height="0.9" fill="#c8c8c8"/>
<rect x="237.22" y="547.42" width="0.9" height="0.9" fill="#dcdcdc"/>
<rect x="206.03" y="553.56" width="0.9" height="0.9" fill="#c8c8c8"/>
<rect x="240.45" y="536.44" width="0.9" height="0.9" fill="#c8c8c8"/>
<rect x="241.17" y="524.83" width="0.9" height="0.9" fill="#d2d2d2"/>
<rect x="221.51" y="550.46" width="0.9" height="0.9" fill="#dcdcdc"/>
<rect x="240.52" y="536.61" width="0.9" height="0.9" fill="#d2d2d2"/>
<rect x="228.61" y="552.97" width="0.9" height="0.9" fill="#d2d2d2"/>
<rect x="238.14" y="540.71" width="0.9" height="0.9" fill="#c8c8c8"/>
<rect x="242.2" y="518.28" width="0.9" height="0.9" fill="#d2d2d2"/>
<rect x="227.78" y="541.56" width="0.9" height="0.9" fill="#c8c8c8"/>
<rect x="248.38" y="536.51" width="0.9" height="0.9" fill="#c8c8c8"/>
<rect x="243.72" y="518.99" width="0.9" height="0.9" fill="#dcdcdc"/>
<rect x="241.9" y="537.7" width="0.9" height="0.9" fill="#c8c8c8"/>
<rect x="237.36" y="530.98" width="0.9" height="0.9" fill="#c8c8c8"/>
<rect x="221.78" y="547.98" width="0.9" height="0.9" fill="#d2d2d2"/>
<rect x="232.4" y="548.36" width="0.9" height="0.9" fill="#c8c8c8"/>
<rect x="226.83" y="545.23" width="0.9" height="0.9" fill="#c8c8c8"/>
<rect x="228.53" y="540.73" width="0.9" height="0.9" fill="#d2d2d2"/>
<rect x="226.64" y="547.61" width="0.9" height="0.9" fill="#c8c8c8"/>
<rect x="235.99" y="547.3" width="0.9" height="0.9" fill="#c8c8c8"/>
<rect x="243.88" y="528.85" width="0.9" height="0.9" fill="#d2d2d2"/>
<rect x="255.5" y="525.14" width="0.9" height="0.9" fill="#d2d2d2"/>
<rect x="261.62" y="518.14" width="0.9" height="0.9" fill="#d2d2d2"/>
<rect x="269.96" y="512.14" width="0.9" height="0.9" fill="#c8c8c8"/>
<rect x="247.52" y="527.89" width="0.9" height="0.9" fill="#c8c8c8"/>
<rect x="245.85" y="532.38" width="0.9" height="0.9" fill="#c8c8c8"/>
<rect x="257.15" y="523.65" width="0.9" height="0.9" fill="#d2d2d2"/>
<rect x="253.11" y="527.34" width="0.9" height="0.9" fill="#c8c8c8"/>
<rect x="257.61" y="519.55" width="0.9" height="0.9" fill="#d2d2d2"/>
<rect x="254.04" y="526.08" width="0.9" height="0.9" fill="#dcdcdc"/>
<rect x="258.6" y="518.82" width="0.9" height="0.9" fill="#dcdcdc"/>
<rect x="265.33" y="511.37" width="0.9" height="0.9" fill="#d2d2d2"/>
<rect x="250.49" y="529.05" width="0.9" height="0.9" fill="#dcdcdc"/>
<rect x="256.74" y="525.17" width="0.9" height="0.9" fill="#c8c8c8"/>
<rect x="258.25" y="518.08" width="0.9" height="0.9" fill="#dcdcdc"/>
<rect x="263.46" y="520.02" width="0.9" height="0.9" fill="#dcdcdc"/>
<rect x="253.94" y="518.7" width="0.9" height="0.9" fill="#c8c8c8"/>
<rect x="246.29" y="530.17" width="0.9" height="0.9" fill="#dcdcdc"/>
<rect x="251.7" y="521.06" width="0.9" height="0.9" fill="#c8c8c8"/>
<rect x="260.46" y="522.11" width="0.9" height="0.9" fill="#dcdcdc"/>
<rect x="252.83" y="524.5" width="0.9" height="0.9" fill="#d2d2d2"/>
<line x1="211.7" y1="467.4" x2="211.7" y2="575.4" stroke="#8c8c8c" stroke-width="1.5"/>
<line x1="185.2" y1="540.4" x2="293.2" y2="540.4" stroke="#505050" stroke-width="1.2"/>
<line x1="181.8" y1="575.4" x2="185.2" y2="575.4" stroke="#333" stroke-width="1.4"/>
<line x1="183.5" y1="567.27" x2="185.2" y2="567.27" stroke="#666" stroke-width="0.9"/>
<line x1="183.5" y1="562.52" x2="185.2" y2="562.52" stroke="#666" stroke-width="0.9"/>
<line x1="183.5" y1="559.14" x2="185.2" y2="559.14" stroke="#666" stroke-width="0.9"/>
<line x1="183.5" y1="556.53" x2="185.2" y2="556.53" stroke="#666" stroke-width="0.9"/>
<line x1="183.5" y1="554.39" x2="185.2" y2="554.39" stroke="#666" stroke-width="0.9"/>
<line x1="183.5" y1="552.58" x2="185.2" y2="552.58" stroke="#666" stroke-width="0.9"/>
<line x1="183.5" y1="551.02" x2="185.2" y2="551.02" stroke="#666" stroke-width="0.9"/>
<line x1="183.5" y1="549.64" x2="185.2" y2="549.64" stroke="#666" stroke-width="0.9"/>
<text x="168.5" y="572.1" font-size="8" fill="#1a1a1a" style="stroke-width:0.25px" letter-spacing="-0.75">10</text><text x="174.9" y="569.4" font-size="4.8" fill="#1a1a1a" style="stroke-width:0.15px">0</text>
<line x1="181.8" y1="548.4" x2="185.2" y2="548.4" stroke="#333" stroke-width="1.4"/>
<line x1="183.5" y1="540.27" x2="185.2" y2="540.27" stroke="#666" stroke-width="0.9"/>
<line x1="183.5" y1="535.52" x2="185.2" y2="535.52" stroke="#666" stroke-width="0.9"/>
<line x1="183.5" y1="532.14" x2="185.2" y2="532.14" stroke="#666" stroke-width="0.9"/>
<line x1="183.5" y1="529.53" x2="185.2" y2="529.53" stroke="#666" stroke-width="0.9"/>
<line x1="183.5" y1="527.39" x2="185.2" y2="527.39" stroke="#666" stroke-width="0.9"/>
<line x1="183.5" y1="525.58" x2="185.2" y2="525.58" stroke="#666" stroke-width="0.9"/>
<line x1="183.5" y1="524.02" x2="185.2" y2="524.02" stroke="#666" stroke-width="0.9"/>
<line x1="183.5" y1="522.64" x2="185.2" y2="522.64" stroke="#666" stroke-width="0.9"/>
<text x="168.5" y="551.3" font-size="8" fill="#1a1a1a" style="stroke-width:0.25px" letter-spacing="-0.75">10</text><text x="174.9" y="548.6" font-size="4.8" fill="#1a1a1a" style="stroke-width:0.15px">1</text>
<line x1="181.8" y1="521.4" x2="185.2" y2="521.4" stroke="#333" stroke-width="1.4"/>
<line x1="183.5" y1="513.27" x2="185.2" y2="513.27" stroke="#666" stroke-width="0.9"/>
<line x1="183.5" y1="508.52" x2="185.2" y2="508.52" stroke="#666" stroke-width="0.9"/>
<line x1="183.5" y1="505.14" x2="185.2" y2="505.14" stroke="#666" stroke-width="0.9"/>
<line x1="183.5" y1="502.53" x2="185.2" y2="502.53" stroke="#666" stroke-width="0.9"/>
<line x1="183.5" y1="500.39" x2="185.2" y2="500.39" stroke="#666" stroke-width="0.9"/>
<line x1="183.5" y1="498.58" x2="185.2" y2="498.58" stroke="#666" stroke-width="0.9"/>
<line x1="183.5" y1="497.02" x2="185.2" y2="497.02" stroke="#666" stroke-width="0.9"/>
<line x1="183.5" y1="495.64" x2="185.2" y2="495.64" stroke="#666" stroke-width="0.9"/>
<text x="168.5" y="524.3" font-size="8" fill="#1a1a1a" style="stroke-width:0.25px" letter-spacing="-0.75">10</text><text x="174.9" y="521.6" font-size="4.8" fill="#1a1a1a" style="stroke-width:0.15px">2</text>
<line x1="181.8" y1="494.4" x2="185.2" y2="494.4" stroke="#333" stroke-width="1.4"/>
<line x1="183.5" y1="486.27" x2="185.2" y2="486.27" stroke="#666" stroke-width="0.9"/>
<line x1="183.5" y1="481.52" x2="185.2" y2="481.52" stroke="#666" stroke-width="0.9"/>
<line x1="183.5" y1="478.14" x2="185.2" y2="478.14" stroke="#666" stroke-width="0.9"/>
<line x1="183.5" y1="475.53" x2="185.2" y2="475.53" stroke="#666" stroke-width="0.9"/>
<line x1="183.5" y1="473.39" x2="185.2" y2="473.39" stroke="#666" stroke-width="0.9"/>
<line x1="183.5" y1="471.58" x2="185.2" y2="471.58" stroke="#666" stroke-width="0.9"/>
<line x1="183.5" y1="470.02" x2="185.2" y2="470.02" stroke="#666" stroke-width="0.9"/>
<line x1="183.5" y1="468.64" x2="185.2" y2="468.64" stroke="#666" stroke-width="0.9"/>
<text x="168.5" y="497.3" font-size="8" fill="#1a1a1a" style="stroke-width:0.25px" letter-spacing="-0.75">10</text><text x="174.9" y="494.6" font-size="4.8" fill="#1a1a1a" style="stroke-width:0.15px">3</text>
<line x1="181.8" y1="467.4" x2="185.2" y2="467.4" stroke="#333" stroke-width="1.4"/>
<text x="168.5" y="473" font-size="8" fill="#1a1a1a" style="stroke-width:0.25px" letter-spacing="-0.75">10</text><text x="174.9" y="470.3" font-size="4.8" fill="#1a1a1a" style="stroke-width:0.15px">4</text>
<line x1="185.2" y1="575.4" x2="185.2" y2="578.2" stroke="#222" stroke-width="1.6"/>
<line x1="193.33" y1="575.4" x2="193.33" y2="577.4" stroke="#444" stroke-width="1.1"/>
<line x1="198.08" y1="575.4" x2="198.08" y2="577.4" stroke="#444" stroke-width="1.1"/>
<line x1="201.46" y1="575.4" x2="201.46" y2="577.4" stroke="#444" stroke-width="1.1"/>
<line x1="204.07" y1="575.4" x2="204.07" y2="577.4" stroke="#444" stroke-width="1.1"/>
<line x1="206.21" y1="575.4" x2="206.21" y2="577.4" stroke="#444" stroke-width="1.1"/>
<line x1="208.02" y1="575.4" x2="208.02" y2="577.4" stroke="#444" stroke-width="1.1"/>
<line x1="209.58" y1="575.4" x2="209.58" y2="577.4" stroke="#444" stroke-width="1.1"/>
<line x1="210.96" y1="575.4" x2="210.96" y2="577.4" stroke="#444" stroke-width="1.1"/>
<text x="182.6" y="587.6" font-size="8" fill="#1a1a1a" style="stroke-width:0.25px" letter-spacing="-0.75">10</text><text x="189.2" y="584.9" font-size="4.8" fill="#1a1a1a" style="stroke-width:0.15px">0</text>
<line x1="212.2" y1="575.4" x2="212.2" y2="578.2" stroke="#222" stroke-width="1.6"/>
<line x1="220.33" y1="575.4" x2="220.33" y2="577.4" stroke="#444" stroke-width="1.1"/>
<line x1="225.08" y1="575.4" x2="225.08" y2="577.4" stroke="#444" stroke-width="1.1"/>
<line x1="228.46" y1="575.4" x2="228.46" y2="577.4" stroke="#444" stroke-width="1.1"/>
<line x1="231.07" y1="575.4" x2="231.07" y2="577.4" stroke="#444" stroke-width="1.1"/>
<line x1="233.21" y1="575.4" x2="233.21" y2="577.4" stroke="#444" stroke-width="1.1"/>
<line x1="235.02" y1="575.4" x2="235.02" y2="577.4" stroke="#444" stroke-width="1.1"/>
<line x1="236.58" y1="575.4" x2="236.58" y2="577.4" stroke="#444" stroke-width="1.1"/>
<line x1="237.96" y1="575.4" x2="237.96" y2="577.4" stroke="#444" stroke-width="1.1"/>
<text x="208.8" y="587.6" font-size="8" fill="#1a1a1a" style="stroke-width:0.25px" letter-spacing="-0.75">10</text><text x="215.4" y="584.9" font-size="4.8" fill="#1a1a1a" style="stroke-width:0.15px">1</text>
<line x1="239.2" y1="575.4" x2="239.2" y2="578.2" stroke="#222" stroke-width="1.6"/>
<line x1="247.33" y1="575.4" x2="247.33" y2="577.4" stroke="#444" stroke-width="1.1"/>
<line x1="252.08" y1="575.4" x2="252.08" y2="577.4" stroke="#444" stroke-width="1.1"/>
<line x1="255.46" y1="575.4" x2="255.46" y2="577.4" stroke="#444" stroke-width="1.1"/>
<line x1="258.07" y1="575.4" x2="258.07" y2="577.4" stroke="#444" stroke-width="1.1"/>
<line x1="260.21" y1="575.4" x2="260.21" y2="577.4" stroke="#444" stroke-width="1.1"/>
<line x1="262.02" y1="575.4" x2="262.02" y2="577.4" stroke="#444" stroke-width="1.1"/>
<line x1="263.58" y1="575.4" x2="263.58" y2="577.4" stroke="#444" stroke-width="1.1"/>
<line x1="264.96" y1="575.4" x2="264.96" y2="577.4" stroke="#444" stroke-width="1.1"/>
<text x="233.9" y="587.6" font-size="8" fill="#1a1a1a" style="stroke-width:0.25px" letter-spacing="-0.75">10</text><text x="240.5" y="584.9" font-size="4.8" fill="#1a1a1a" style="stroke-width:0.15px">2</text>
<line x1="266.2" y1="575.4" x2="266.2" y2="578.2" stroke="#222" stroke-width="1.6"/>
<line x1="274.33" y1="575.4" x2="274.33" y2="577.4" stroke="#444" stroke-width="1.1"/>
<line x1="279.08" y1="575.4" x2="279.08" y2="577.4" stroke="#444" stroke-width="1.1"/>
<line x1="282.46" y1="575.4" x2="282.46" y2="577.4" stroke="#444" stroke-width="1.1"/>
<line x1="285.07" y1="575.4" x2="285.07" y2="577.4" stroke="#444" stroke-width="1.1"/>
<line x1="287.21" y1="575.4" x2="287.21" y2="577.4" stroke="#444" stroke-width="1.1"/>
<line x1="289.02" y1="575.4" x2="289.02" y2="577.4" stroke="#444" stroke-width="1.1"/>
<line x1="290.58" y1="575.4" x2="290.58" y2="577.4" stroke="#444" stroke-width="1.1"/>
<line x1="291.96" y1="575.4" x2="291.96" y2="577.4" stroke="#444" stroke-width="1.1"/>
<text x="259.7" y="587.6" font-size="8" fill="#1a1a1a" style="stroke-width:0.25px" letter-spacing="-0.75">10</text><text x="266.3" y="584.9" font-size="4.8" fill="#1a1a1a" style="stroke-width:0.15px">3</text>
<line x1="293.2" y1="575.4" x2="293.2" y2="578.2" stroke="#222" stroke-width="1.6"/>
<text x="282.6" y="587.6" font-size="8" fill="#1a1a1a" style="stroke-width:0.25px" letter-spacing="-0.75">10</text><text x="289.2" y="584.9" font-size="4.8" fill="#1a1a1a" style="stroke-width:0.15px">4</text>
<text x="282.7" y="483.7" font-size="9" text-anchor="end" fill="#2a2a2a" style="stroke-width:0.25px">32%</text>
<text x="169" y="614.9" font-size="13" text-anchor="middle" fill="#1a1a1a">HS</text>
<line x1="25.7" y1="627.4" x2="25.7" y2="734.7" stroke="#111" stroke-width="1.8"/>
<text transform="translate(18.2,679.9) rotate(-90)" font-size="11" text-anchor="middle" fill="#1a1a1a">LAG-3</text>
<rect x="51.8" y="625.9" width="108" height="108" fill="none" stroke="#c4c4c4" stroke-width="1"/>
<rect x="87.44" y="717.54" width="0.9" height="0.9" fill="#b8b8b8"/>
<rect x="91.82" y="700.86" width="0.9" height="0.9" fill="#aaaaaa"/>
<rect x="83.08" y="727.29" width="0.9" height="0.9" fill="#b8b8b8"/>
<rect x="90.46" y="719.04" width="0.9" height="0.9" fill="#b8b8b8"/>
<rect x="90.96" y="723.15" width="0.9" height="0.9" fill="#9a9a9a"/>
<rect x="89.95" y="727.93" width="0.9" height="0.9" fill="#aaaaaa"/>
<rect x="93.06" y="717.57" width="0.9" height="0.9" fill="#8a8a8a"/>
<rect x="81.26" y="728.57" width="0.9" height="0.9" fill="#8a8a8a"/>
<rect x="91.6" y="723.07" width="0.9" height="0.9" fill="#aaaaaa"/>
<rect x="88.47" y="700.06" width="0.9" height="0.9" fill="#8a8a8a"/>
<rect x="86.51" y="718.36" width="0.9" height="0.9" fill="#b8b8b8"/>
<rect x="86.14" y="715.46" width="0.9" height="0.9" fill="#9a9a9a"/>
<rect x="97.38" y="717.44" width="0.9" height="0.9" fill="#9a9a9a"/>
<rect x="85.22" y="711.81" width="0.9" height="0.9" fill="#aaaaaa"/>
<rect x="86.98" y="728.73" width="0.9" height="0.9" fill="#8a8a8a"/>
<rect x="96.07" y="716.99" width="0.9" height="0.9" fill="#9a9a9a"/>
<rect x="86.45" y="729.16" width="0.9" height="0.9" fill="#b8b8b8"/>
<rect x="80.83" y="713.22" width="0.9" height="0.9" fill="#8a8a8a"/>
<rect x="85.95" y="717.59" width="0.9" height="0.9" fill="#9a9a9a"/>
<rect x="88.97" y="715.98" width="0.9" height="0.9" fill="#b8b8b8"/>
<rect x="81.19" y="708.37" width="0.9" height="0.9" fill="#8a8a8a"/>
<rect x="89.94" y="720.21" width="0.9" height="0.9" fill="#9a9a9a"/>
<rect x="84.22" y="713.51" width="0.9" height="0.9" fill="#9a9a9a"/>
<rect x="90.14" y="722.71" width="0.9" height="0.9" fill="#b8b8b8"/>
<rect x="90.84" y="726.94" width="0.9" height="0.9" fill="#b8b8b8"/>
<rect x="85.14" y="705.41" width="0.9" height="0.9" fill="#8a8a8a"/>
<rect x="79.45" y="725.79" width="0.9" height="0.9" fill="#aaaaaa"/>
<rect x="85.43" y="719.62" width="0.9" height="0.9" fill="#aaaaaa"/>
<rect x="85.35" y="700.8" width="0.9" height="0.9" fill="#aaaaaa"/>
<rect x="90.08" y="701.55" width="0.9" height="0.9" fill="#8a8a8a"/>
<rect x="85.98" y="718.66" width="0.9" height="0.9" fill="#aaaaaa"/>
<rect x="87.02" y="722.75" width="0.9" height="0.9" fill="#8a8a8a"/>
<rect x="83.76" y="721.84" width="0.9" height="0.9" fill="#8a8a8a"/>
<rect x="85.79" y="719.38" width="0.9" height="0.9" fill="#8a8a8a"/>
<rect x="87.64" y="722.64" width="0.9" height="0.9" fill="#b8b8b8"/>
<rect x="88.56" y="697.51" width="0.9" height="0.9" fill="#8a8a8a"/>
<rect x="90.02" y="700.39" width="0.9" height="0.9" fill="#8a8a8a"/>
<rect x="92.6" y="717.2" width="0.9" height="0.9" fill="#aaaaaa"/>
<rect x="91.86" y="709.73" width="0.9" height="0.9" fill="#8a8a8a"/>
<rect x="84.8" y="710.97" width="0.9" height="0.9" fill="#8a8a8a"/>
<rect x="78.02" y="722.35" width="0.9" height="0.9" fill="#aaaaaa"/>
<rect x="89.8" y="719.42" width="0.9" height="0.9" fill="#9a9a9a"/>
<rect x="90.91" y="721.81" width="0.9" height="0.9" fill="#aaaaaa"/>
<rect x="91.61" y="719.97" width="0.9" height="0.9" fill="#9a9a9a"/>
<rect x="82.55" y="718.21" width="0.9" height="0.9" fill="#aaaaaa"/>
<rect x="91.53" y="709.92" width="0.9" height="0.9" fill="#aaaaaa"/>
<rect x="87.07" y="718.11" width="0.9" height="0.9" fill="#aaaaaa"/>
<rect x="89.93" y="706.2" width="0.9" height="0.9" fill="#9a9a9a"/>
<rect x="85.43" y="710.83" width="0.9" height="0.9" fill="#aaaaaa"/>
<rect x="82.11" y="717.2" width="0.9" height="0.9" fill="#b8b8b8"/>
<rect x="83.62" y="716.15" width="0.9" height="0.9" fill="#9a9a9a"/>
<rect x="85.7" y="719.1" width="0.9" height="0.9" fill="#b8b8b8"/>
<rect x="90.95" y="713.47" width="0.9" height="0.9" fill="#aaaaaa"/>
<rect x="92.16" y="730.65" width="0.9" height="0.9" fill="#aaaaaa"/>
<rect x="82.64" y="711.86" width="0.9" height="0.9" fill="#aaaaaa"/>
<rect x="89.02" y="711.28" width="0.9" height="0.9" fill="#8a8a8a"/>
<rect x="87.33" y="710.54" width="0.9" height="0.9" fill="#8a8a8a"/>
<rect x="84.09" y="710.62" width="0.9" height="0.9" fill="#8a8a8a"/>
<rect x="79.46" y="713.38" width="0.9" height="0.9" fill="#aaaaaa"/>
<rect x="86.82" y="711.31" width="0.9" height="0.9" fill="#9a9a9a"/>
<rect x="93.01" y="714.14" width="0.9" height="0.9" fill="#9a9a9a"/>
<rect x="81.85" y="720.47" width="0.9" height="0.9" fill="#9a9a9a"/>
<rect x="84.5" y="705.64" width="0.9" height="0.9" fill="#aaaaaa"/>
<rect x="89.09" y="706.73" width="0.9" height="0.9" fill="#b8b8b8"/>
<rect x="86.34" y="725.41" width="0.9" height="0.9" fill="#9a9a9a"/>
<rect x="85.4" y="716.72" width="0.9" height="0.9" fill="#b8b8b8"/>
<rect x="87.52" y="704.99" width="0.9" height="0.9" fill="#b8b8b8"/>
<rect x="76.93" y="729.07" width="0.9" height="0.9" fill="#9a9a9a"/>
<rect x="80.91" y="721.37" width="0.9" height="0.9" fill="#8a8a8a"/>
<rect x="83.81" y="720.55" width="0.9" height="0.9" fill="#b8b8b8"/>
<rect x="86.12" y="721.7" width="0.9" height="0.9" fill="#aaaaaa"/>
<rect x="83.06" y="720.95" width="0.9" height="0.9" fill="#b8b8b8"/>
<rect x="86.72" y="714.2" width="0.9" height="0.9" fill="#b8b8b8"/>
<rect x="84.53" y="719.22" width="0.9" height="0.9" fill="#aaaaaa"/>
<rect x="88.4" y="707.32" width="0.9" height="0.9" fill="#b8b8b8"/>
<rect x="85.5" y="713.32" width="0.9" height="0.9" fill="#aaaaaa"/>
<rect x="83.55" y="727.81" width="0.9" height="0.9" fill="#9a9a9a"/>
<rect x="89.61" y="713.6" width="0.9" height="0.9" fill="#b8b8b8"/>
<rect x="94.75" y="703.07" width="0.9" height="0.9" fill="#8a8a8a"/>
<rect x="91.93" y="717.74" width="0.9" height="0.9" fill="#b8b8b8"/>
<rect x="85.47" y="723.75" width="0.9" height="0.9" fill="#aaaaaa"/>
<rect x="73.11" y="708.48" width="0.9" height="0.9" fill="#b8b8b8"/>
<rect x="84.11" y="719.41" width="0.9" height="0.9" fill="#aaaaaa"/>
<rect x="86.45" y="715.21" width="0.9" height="0.9" fill="#8a8a8a"/>
<rect x="85.2" y="714.36" width="0.9" height="0.9" fill="#aaaaaa"/>
<rect x="81.22" y="714.84" width="0.9" height="0.9" fill="#9a9a9a"/>
<rect x="94.53" y="701.62" width="0.9" height="0.9" fill="#b8b8b8"/>
<rect x="81.43" y="722.32" width="0.9" height="0.9" fill="#aaaaaa"/>
<rect x="84.62" y="703.3" width="0.9" height="0.9" fill="#8a8a8a"/>
<rect x="88.67" y="720.67" width="0.9" height="0.9" fill="#8a8a8a"/>
<rect x="89.2" y="706.91" width="0.9" height="0.9" fill="#8a8a8a"/>
<rect x="85.14" y="709.69" width="0.9" height="0.9" fill="#aaaaaa"/>
<rect x="92.22" y="694.28" width="0.9" height="0.9" fill="#b8b8b8"/>
<rect x="83.69" y="708.19" width="0.9" height="0.9" fill="#9a9a9a"/>
<rect x="84.42" y="714.75" width="0.9" height="0.9" fill="#9a9a9a"/>
<rect x="91.8" y="718.47" width="0.9" height="0.9" fill="#8a8a8a"/>
<rect x="86.23" y="713.23" width="0.9" height="0.9" fill="#b8b8b8"/>
<rect x="87.3" y="714.94" width="0.9" height="0.9" fill="#8a8a8a"/>
<rect x="90.49" y="711.14" width="0.9" height="0.9" fill="#8a8a8a"/>
<rect x="81.91" y="709.16" width="0.9" height="0.9" fill="#9a9a9a"/>
<rect x="90.1" y="726.35" width="0.9" height="0.9" fill="#aaaaaa"/>
<rect x="92.86" y="703.36" width="0.9" height="0.9" fill="#9a9a9a"/>
<rect x="83.33" y="711.42" width="0.9" height="0.9" fill="#8a8a8a"/>
<rect x="89.96" y="722.08" width="0.9" height="0.9" fill="#8a8a8a"/>
<rect x="88.57" y="715.44" width="0.9" height="0.9" fill="#b8b8b8"/>
<rect x="89.44" y="705.64" width="0.9" height="0.9" fill="#8a8a8a"/>
<rect x="83.43" y="705.68" width="0.9" height="0.9" fill="#aaaaaa"/>
<rect x="88.82" y="719.25" width="0.9" height="0.9" fill="#aaaaaa"/>
<rect x="88.53" y="720.07" width="0.9" height="0.9" fill="#8a8a8a"/>
<rect x="97.24" y="695.99" width="0.9" height="0.9" fill="#c8c8c8"/>
<rect x="84.18" y="720.9" width="0.9" height="0.9" fill="#d2d2d2"/>
<rect x="92.2" y="713.68" width="0.9" height="0.9" fill="#d2d2d2"/>
<rect x="74.8" y="701.58" width="0.9" height="0.9" fill="#d2d2d2"/>
<rect x="92.17" y="715.13" width="0.9" height="0.9" fill="#c8c8c8"/>
<rect x="101.34" y="718.58" width="0.9" height="0.9" fill="#c8c8c8"/>
<rect x="82.91" y="730.59" width="0.9" height="0.9" fill="#d2d2d2"/>
<rect x="85.3" y="724.44" width="0.9" height="0.9" fill="#d2d2d2"/>
<rect x="90.23" y="712.47" width="0.9" height="0.9" fill="#dcdcdc"/>
<rect x="80.65" y="722.05" width="0.9" height="0.9" fill="#c8c8c8"/>
<rect x="82.82" y="717.59" width="0.9" height="0.9" fill="#dcdcdc"/>
<rect x="77.41" y="714.46" width="0.9" height="0.9" fill="#c8c8c8"/>
<rect x="91.12" y="715.77" width="0.9" height="0.9" fill="#d2d2d2"/>
<rect x="86.05" y="724.08" width="0.9" height="0.9" fill="#c8c8c8"/>
<rect x="81.81" y="728.59" width="0.9" height="0.9" fill="#d2d2d2"/>
<rect x="86.19" y="714.79" width="0.9" height="0.9" fill="#c8c8c8"/>
<rect x="76.29" y="722.23" width="0.9" height="0.9" fill="#dcdcdc"/>
<rect x="88.12" y="718.76" width="0.9" height="0.9" fill="#d2d2d2"/>
<rect x="84.41" y="720.88" width="0.9" height="0.9" fill="#d2d2d2"/>
<rect x="85.19" y="705.84" width="0.9" height="0.9" fill="#c8c8c8"/>
<rect x="88.16" y="717.64" width="0.9" height="0.9" fill="#c8c8c8"/>
<rect x="86.6" y="729.85" width="0.9" height="0.9" fill="#c8c8c8"/>
<rect x="81.67" y="709.48" width="0.9" height="0.9" fill="#c8c8c8"/>
<rect x="91.02" y="719.97" width="0.9" height="0.9" fill="#dcdcdc"/>
<rect x="81" y="720.02" width="0.9" height="0.9" fill="#dcdcdc"/>
<rect x="83.69" y="712.7" width="0.9" height="0.9" fill="#d2d2d2"/>
<rect x="81.52" y="693.74" width="0.9" height="0.9" fill="#d2d2d2"/>
<rect x="82.68" y="707.4" width="0.9" height="0.9" fill="#d2d2d2"/>
<rect x="82.04" y="710.92" width="0.9" height="0.9" fill="#dcdcdc"/>
<rect x="90.84" y="730.66" width="0.9" height="0.9" fill="#c8c8c8"/>
<rect x="86.85" y="709.36" width="0.9" height="0.9" fill="#d2d2d2"/>
<rect x="87.1" y="697.65" width="0.9" height="0.9" fill="#c8c8c8"/>
<rect x="83.73" y="703.16" width="0.9" height="0.9" fill="#d2d2d2"/>
<rect x="97.41" y="714.23" width="0.9" height="0.9" fill="#dcdcdc"/>
<rect x="93.18" y="728.65" width="0.9" height="0.9" fill="#d2d2d2"/>
<rect x="92.78" y="730.45" width="0.9" height="0.9" fill="#c8c8c8"/>
<rect x="82.74" y="709.66" width="0.9" height="0.9" fill="#dcdcdc"/>
<rect x="88.21" y="707.02" width="0.9" height="0.9" fill="#dcdcdc"/>
<rect x="86.39" y="718.88" width="0.9" height="0.9" fill="#c8c8c8"/>
<rect x="90.47" y="704.61" width="0.9" height="0.9" fill="#d2d2d2"/>
<rect x="77.21" y="724.14" width="0.9" height="0.9" fill="#dcdcdc"/>
<rect x="96.83" y="700.88" width="0.9" height="0.9" fill="#c8c8c8"/>
<rect x="91.45" y="710.73" width="0.9" height="0.9" fill="#d2d2d2"/>
<rect x="84.21" y="700.89" width="0.9" height="0.9" fill="#d2d2d2"/>
<rect x="89.08" y="711.67" width="0.9" height="0.9" fill="#dcdcdc"/>
<rect x="86.58" y="706.44" width="0.9" height="0.9" fill="#d2d2d2"/>
<rect x="82.94" y="723.05" width="0.9" height="0.9" fill="#c8c8c8"/>
<rect x="86.77" y="719.81" width="0.9" height="0.9" fill="#dcdcdc"/>
<rect x="92.04" y="667.8" width="0.9" height="0.9" fill="#c8c8c8"/>
<rect x="100.42" y="688.32" width="0.9" height="0.9" fill="#d2d2d2"/>
<rect x="108.13" y="682.21" width="0.9" height="0.9" fill="#d2d2d2"/>
<rect x="94.17" y="669.62" width="0.9" height="0.9" fill="#dcdcdc"/>
<rect x="97.04" y="676.42" width="0.9" height="0.9" fill="#c8c8c8"/>
<rect x="90.38" y="679.71" width="0.9" height="0.9" fill="#d2d2d2"/>
<rect x="105.23" y="667.29" width="0.9" height="0.9" fill="#dcdcdc"/>
<rect x="102.07" y="678.26" width="0.9" height="0.9" fill="#dcdcdc"/>
<rect x="103.31" y="680.19" width="0.9" height="0.9" fill="#dcdcdc"/>
<rect x="99.57" y="677.66" width="0.9" height="0.9" fill="#c8c8c8"/>
<rect x="99.93" y="676.7" width="0.9" height="0.9" fill="#d2d2d2"/>
<rect x="117.4" y="690.21" width="0.9" height="0.9" fill="#dcdcdc"/>
<rect x="70.67" y="711.68" width="0.9" height="0.9" fill="#dcdcdc"/>
<rect x="64.09" y="721.07" width="0.9" height="0.9" fill="#c8c8c8"/>
<rect x="67.75" y="717.46" width="0.9" height="0.9" fill="#d2d2d2"/>
<rect x="65.44" y="716.83" width="0.9" height="0.9" fill="#dcdcdc"/>
<rect x="67.6" y="703.63" width="0.9" height="0.9" fill="#dcdcdc"/>
<rect x="65.49" y="709.81" width="0.9" height="0.9" fill="#dcdcdc"/>
<line x1="78.3" y1="625.9" x2="78.3" y2="733.9" stroke="#9a9a9a" stroke-width="1.5"/>
<line x1="51.8" y1="698.9" x2="159.8" y2="698.9" stroke="#505050" stroke-width="1.2"/>
<line x1="48.4" y1="733.9" x2="51.8" y2="733.9" stroke="#333" stroke-width="1.4"/>
<line x1="50.1" y1="725.77" x2="51.8" y2="725.77" stroke="#666" stroke-width="0.9"/>
<line x1="50.1" y1="721.02" x2="51.8" y2="721.02" stroke="#666" stroke-width="0.9"/>
<line x1="50.1" y1="717.64" x2="51.8" y2="717.64" stroke="#666" stroke-width="0.9"/>
<line x1="50.1" y1="715.03" x2="51.8" y2="715.03" stroke="#666" stroke-width="0.9"/>
<line x1="50.1" y1="712.89" x2="51.8" y2="712.89" stroke="#666" stroke-width="0.9"/>
<line x1="50.1" y1="711.08" x2="51.8" y2="711.08" stroke="#666" stroke-width="0.9"/>
<line x1="50.1" y1="709.52" x2="51.8" y2="709.52" stroke="#666" stroke-width="0.9"/>
<line x1="50.1" y1="708.14" x2="51.8" y2="708.14" stroke="#666" stroke-width="0.9"/>
<text x="35.1" y="730.6" font-size="8" fill="#1a1a1a" style="stroke-width:0.25px" letter-spacing="-0.75">10</text><text x="41.5" y="727.9" font-size="4.8" fill="#1a1a1a" style="stroke-width:0.15px">0</text>
<line x1="48.4" y1="706.9" x2="51.8" y2="706.9" stroke="#333" stroke-width="1.4"/>
<line x1="50.1" y1="698.77" x2="51.8" y2="698.77" stroke="#666" stroke-width="0.9"/>
<line x1="50.1" y1="694.02" x2="51.8" y2="694.02" stroke="#666" stroke-width="0.9"/>
<line x1="50.1" y1="690.64" x2="51.8" y2="690.64" stroke="#666" stroke-width="0.9"/>
<line x1="50.1" y1="688.03" x2="51.8" y2="688.03" stroke="#666" stroke-width="0.9"/>
<line x1="50.1" y1="685.89" x2="51.8" y2="685.89" stroke="#666" stroke-width="0.9"/>
<line x1="50.1" y1="684.08" x2="51.8" y2="684.08" stroke="#666" stroke-width="0.9"/>
<line x1="50.1" y1="682.52" x2="51.8" y2="682.52" stroke="#666" stroke-width="0.9"/>
<line x1="50.1" y1="681.14" x2="51.8" y2="681.14" stroke="#666" stroke-width="0.9"/>
<text x="35.1" y="709.8" font-size="8" fill="#1a1a1a" style="stroke-width:0.25px" letter-spacing="-0.75">10</text><text x="41.5" y="707.1" font-size="4.8" fill="#1a1a1a" style="stroke-width:0.15px">1</text>
<line x1="48.4" y1="679.9" x2="51.8" y2="679.9" stroke="#333" stroke-width="1.4"/>
<line x1="50.1" y1="671.77" x2="51.8" y2="671.77" stroke="#666" stroke-width="0.9"/>
<line x1="50.1" y1="667.02" x2="51.8" y2="667.02" stroke="#666" stroke-width="0.9"/>
<line x1="50.1" y1="663.64" x2="51.8" y2="663.64" stroke="#666" stroke-width="0.9"/>
<line x1="50.1" y1="661.03" x2="51.8" y2="661.03" stroke="#666" stroke-width="0.9"/>
<line x1="50.1" y1="658.89" x2="51.8" y2="658.89" stroke="#666" stroke-width="0.9"/>
<line x1="50.1" y1="657.08" x2="51.8" y2="657.08" stroke="#666" stroke-width="0.9"/>
<line x1="50.1" y1="655.52" x2="51.8" y2="655.52" stroke="#666" stroke-width="0.9"/>
<line x1="50.1" y1="654.14" x2="51.8" y2="654.14" stroke="#666" stroke-width="0.9"/>
<text x="35.1" y="682.8" font-size="8" fill="#1a1a1a" style="stroke-width:0.25px" letter-spacing="-0.75">10</text><text x="41.5" y="680.1" font-size="4.8" fill="#1a1a1a" style="stroke-width:0.15px">2</text>
<line x1="48.4" y1="652.9" x2="51.8" y2="652.9" stroke="#333" stroke-width="1.4"/>
<line x1="50.1" y1="644.77" x2="51.8" y2="644.77" stroke="#666" stroke-width="0.9"/>
<line x1="50.1" y1="640.02" x2="51.8" y2="640.02" stroke="#666" stroke-width="0.9"/>
<line x1="50.1" y1="636.64" x2="51.8" y2="636.64" stroke="#666" stroke-width="0.9"/>
<line x1="50.1" y1="634.03" x2="51.8" y2="634.03" stroke="#666" stroke-width="0.9"/>
<line x1="50.1" y1="631.89" x2="51.8" y2="631.89" stroke="#666" stroke-width="0.9"/>
<line x1="50.1" y1="630.08" x2="51.8" y2="630.08" stroke="#666" stroke-width="0.9"/>
<line x1="50.1" y1="628.52" x2="51.8" y2="628.52" stroke="#666" stroke-width="0.9"/>
<line x1="50.1" y1="627.14" x2="51.8" y2="627.14" stroke="#666" stroke-width="0.9"/>
<text x="35.1" y="655.8" font-size="8" fill="#1a1a1a" style="stroke-width:0.25px" letter-spacing="-0.75">10</text><text x="41.5" y="653.1" font-size="4.8" fill="#1a1a1a" style="stroke-width:0.15px">3</text>
<line x1="48.4" y1="625.9" x2="51.8" y2="625.9" stroke="#333" stroke-width="1.4"/>
<text x="35.1" y="631.5" font-size="8" fill="#1a1a1a" style="stroke-width:0.25px" letter-spacing="-0.75">10</text><text x="41.5" y="628.8" font-size="4.8" fill="#1a1a1a" style="stroke-width:0.15px">4</text>
<line x1="51.8" y1="733.9" x2="51.8" y2="736.7" stroke="#222" stroke-width="1.6"/>
<line x1="59.93" y1="733.9" x2="59.93" y2="735.9" stroke="#444" stroke-width="1.1"/>
<line x1="64.68" y1="733.9" x2="64.68" y2="735.9" stroke="#444" stroke-width="1.1"/>
<line x1="68.06" y1="733.9" x2="68.06" y2="735.9" stroke="#444" stroke-width="1.1"/>
<line x1="70.67" y1="733.9" x2="70.67" y2="735.9" stroke="#444" stroke-width="1.1"/>
<line x1="72.81" y1="733.9" x2="72.81" y2="735.9" stroke="#444" stroke-width="1.1"/>
<line x1="74.62" y1="733.9" x2="74.62" y2="735.9" stroke="#444" stroke-width="1.1"/>
<line x1="76.18" y1="733.9" x2="76.18" y2="735.9" stroke="#444" stroke-width="1.1"/>
<line x1="77.56" y1="733.9" x2="77.56" y2="735.9" stroke="#444" stroke-width="1.1"/>
<text x="49.2" y="746.1" font-size="8" fill="#1a1a1a" style="stroke-width:0.25px" letter-spacing="-0.75">10</text><text x="55.8" y="743.4" font-size="4.8" fill="#1a1a1a" style="stroke-width:0.15px">0</text>
<line x1="78.8" y1="733.9" x2="78.8" y2="736.7" stroke="#222" stroke-width="1.6"/>
<line x1="86.93" y1="733.9" x2="86.93" y2="735.9" stroke="#444" stroke-width="1.1"/>
<line x1="91.68" y1="733.9" x2="91.68" y2="735.9" stroke="#444" stroke-width="1.1"/>
<line x1="95.06" y1="733.9" x2="95.06" y2="735.9" stroke="#444" stroke-width="1.1"/>
<line x1="97.67" y1="733.9" x2="97.67" y2="735.9" stroke="#444" stroke-width="1.1"/>
<line x1="99.81" y1="733.9" x2="99.81" y2="735.9" stroke="#444" stroke-width="1.1"/>
<line x1="101.62" y1="733.9" x2="101.62" y2="735.9" stroke="#444" stroke-width="1.1"/>
<line x1="103.18" y1="733.9" x2="103.18" y2="735.9" stroke="#444" stroke-width="1.1"/>
<line x1="104.56" y1="733.9" x2="104.56" y2="735.9" stroke="#444" stroke-width="1.1"/>
<text x="75.4" y="746.1" font-size="8" fill="#1a1a1a" style="stroke-width:0.25px" letter-spacing="-0.75">10</text><text x="82" y="743.4" font-size="4.8" fill="#1a1a1a" style="stroke-width:0.15px">1</text>
<line x1="105.8" y1="733.9" x2="105.8" y2="736.7" stroke="#222" stroke-width="1.6"/>
<line x1="113.93" y1="733.9" x2="113.93" y2="735.9" stroke="#444" stroke-width="1.1"/>
<line x1="118.68" y1="733.9" x2="118.68" y2="735.9" stroke="#444" stroke-width="1.1"/>
<line x1="122.06" y1="733.9" x2="122.06" y2="735.9" stroke="#444" stroke-width="1.1"/>
<line x1="124.67" y1="733.9" x2="124.67" y2="735.9" stroke="#444" stroke-width="1.1"/>
<line x1="126.81" y1="733.9" x2="126.81" y2="735.9" stroke="#444" stroke-width="1.1"/>
<line x1="128.62" y1="733.9" x2="128.62" y2="735.9" stroke="#444" stroke-width="1.1"/>
<line x1="130.18" y1="733.9" x2="130.18" y2="735.9" stroke="#444" stroke-width="1.1"/>
<line x1="131.56" y1="733.9" x2="131.56" y2="735.9" stroke="#444" stroke-width="1.1"/>
<text x="100.5" y="746.1" font-size="8" fill="#1a1a1a" style="stroke-width:0.25px" letter-spacing="-0.75">10</text><text x="107.1" y="743.4" font-size="4.8" fill="#1a1a1a" style="stroke-width:0.15px">2</text>
<line x1="132.8" y1="733.9" x2="132.8" y2="736.7" stroke="#222" stroke-width="1.6"/>
<line x1="140.93" y1="733.9" x2="140.93" y2="735.9" stroke="#444" stroke-width="1.1"/>
<line x1="145.68" y1="733.9" x2="145.68" y2="735.9" stroke="#444" stroke-width="1.1"/>
<line x1="149.06" y1="733.9" x2="149.06" y2="735.9" stroke="#444" stroke-width="1.1"/>
<line x1="151.67" y1="733.9" x2="151.67" y2="735.9" stroke="#444" stroke-width="1.1"/>
<line x1="153.81" y1="733.9" x2="153.81" y2="735.9" stroke="#444" stroke-width="1.1"/>
<line x1="155.62" y1="733.9" x2="155.62" y2="735.9" stroke="#444" stroke-width="1.1"/>
<line x1="157.18" y1="733.9" x2="157.18" y2="735.9" stroke="#444" stroke-width="1.1"/>
<line x1="158.56" y1="733.9" x2="158.56" y2="735.9" stroke="#444" stroke-width="1.1"/>
<text x="126.3" y="746.1" font-size="8" fill="#1a1a1a" style="stroke-width:0.25px" letter-spacing="-0.75">10</text><text x="132.9" y="743.4" font-size="4.8" fill="#1a1a1a" style="stroke-width:0.15px">3</text>
<line x1="159.8" y1="733.9" x2="159.8" y2="736.7" stroke="#222" stroke-width="1.6"/>
<text x="149.2" y="746.1" font-size="8" fill="#1a1a1a" style="stroke-width:0.25px" letter-spacing="-0.75">10</text><text x="155.8" y="743.4" font-size="4.8" fill="#1a1a1a" style="stroke-width:0.15px">4</text>
<text x="149.3" y="642.2" font-size="9" text-anchor="end" fill="#2a2a2a" style="stroke-width:0.25px">9%</text>
<rect x="185.2" y="625.9" width="108" height="108" fill="none" stroke="#c4c4c4" stroke-width="1"/>
<rect x="227.65" y="700.88" width="0.9" height="0.9" fill="#9a9a9a"/>
<rect x="226.41" y="708.2" width="0.9" height="0.9" fill="#aaaaaa"/>
<rect x="230.09" y="711.62" width="0.9" height="0.9" fill="#9a9a9a"/>
<rect x="226.08" y="706.45" width="0.9" height="0.9" fill="#8a8a8a"/>
<rect x="230.82" y="713.53" width="0.9" height="0.9" fill="#8a8a8a"/>
<rect x="230.04" y="713.66" width="0.9" height="0.9" fill="#9a9a9a"/>
<rect x="227.2" y="700.46" width="0.9" height="0.9" fill="#b8b8b8"/>
<rect x="229.23" y="713.09" width="0.9" height="0.9" fill="#b8b8b8"/>
<rect x="232.84" y="715.34" width="0.9" height="0.9" fill="#aaaaaa"/>
<rect x="233.2" y="716.06" width="0.9" height="0.9" fill="#9a9a9a"/>
<rect x="225.31" y="719.03" width="0.9" height="0.9" fill="#b8b8b8"/>
<rect x="229.16" y="703.65" width="0.9" height="0.9" fill="#9a9a9a"/>
<rect x="225.38" y="703.38" width="0.9" height="0.9" fill="#b8b8b8"/>
<rect x="229.96" y="704.89" width="0.9" height="0.9" fill="#aaaaaa"/>
<rect x="233.61" y="708.53" width="0.9" height="0.9" fill="#8a8a8a"/>
<rect x="232.02" y="710" width="0.9" height="0.9" fill="#9a9a9a"/>
<rect x="231.64" y="711.75" width="0.9" height="0.9" fill="#8a8a8a"/>
<rect x="231.3" y="714.35" width="0.9" height="0.9" fill="#aaaaaa"/>
<rect x="227.75" y="716.57" width="0.9" height="0.9" fill="#8a8a8a"/>
<rect x="241.42" y="709.38" width="0.9" height="0.9" fill="#b8b8b8"/>
<rect x="234.49" y="713.5" width="0.9" height="0.9" fill="#aaaaaa"/>
<rect x="232.59" y="713.02" width="0.9" height="0.9" fill="#b8b8b8"/>
<rect x="222.02" y="708.8" width="0.9" height="0.9" fill="#aaaaaa"/>
<rect x="237.97" y="708.72" width="0.9" height="0.9" fill="#aaaaaa"/>
<rect x="222.5" y="696.12" width="0.9" height="0.9" fill="#aaaaaa"/>
<rect x="228.08" y="705.58" width="0.9" height="0.9" fill="#8a8a8a"/>
<rect x="232.96" y="709.01" width="0.9" height="0.9" fill="#9a9a9a"/>
<rect x="228.26" y="712.2" width="0.9" height="0.9" fill="#9a9a9a"/>
<rect x="234.1" y="714.58" width="0.9" height="0.9" fill="#aaaaaa"/>
<rect x="228.83" y="701.68" width="0.9" height="0.9" fill="#9a9a9a"/>
<rect x="226.74" y="702.65" width="0.9" height="0.9" fill="#9a9a9a"/>
<rect x="225.57" y="714.41" width="0.9" height="0.9" fill="#aaaaaa"/>
<rect x="230.6" y="703.34" width="0.9" height="0.9" fill="#8a8a8a"/>
<rect x="234" y="710.22" width="0.9" height="0.9" fill="#b8b8b8"/>
<rect x="236.97" y="698.44" width="0.9" height="0.9" fill="#b8b8b8"/>
<rect x="222.4" y="709.68" width="0.9" height="0.9" fill="#d2d2d2"/>
<rect x="224.27" y="695.31" width="0.9" height="0.9" fill="#c8c8c8"/>
<rect x="229.64" y="697.92" width="0.9" height="0.9" fill="#d2d2d2"/>
<rect x="227.03" y="695.99" width="0.9" height="0.9" fill="#c8c8c8"/>
<rect x="235.05" y="694.61" width="0.9" height="0.9" fill="#c8c8c8"/>
<rect x="230.92" y="702.24" width="0.9" height="0.9" fill="#dcdcdc"/>
<rect x="237.48" y="690.41" width="0.9" height="0.9" fill="#d2d2d2"/>
<rect x="232.44" y="705.62" width="0.9" height="0.9" fill="#c8c8c8"/>
<rect x="224.75" y="702.04" width="0.9" height="0.9" fill="#d2d2d2"/>
<rect x="231.74" y="703.36" width="0.9" height="0.9" fill="#c8c8c8"/>
<rect x="233.96" y="699.84" width="0.9" height="0.9" fill="#d2d2d2"/>
<rect x="241.83" y="703.33" width="0.9" height="0.9" fill="#dcdcdc"/>
<rect x="228.71" y="707.74" width="0.9" height="0.9" fill="#c8c8c8"/>
<rect x="224.02" y="700.02" width="0.9" height="0.9" fill="#d2d2d2"/>
<rect x="243.92" y="699.37" width="0.9" height="0.9" fill="#c8c8c8"/>
<rect x="246.13" y="699.21" width="0.9" height="0.9" fill="#dcdcdc"/>
<rect x="240.53" y="710.93" width="0.9" height="0.9" fill="#dcdcdc"/>
<rect x="227.33" y="691.86" width="0.9" height="0.9" fill="#d2d2d2"/>
<rect x="225.24" y="699.16" width="0.9" height="0.9" fill="#d2d2d2"/>
<rect x="222.4" y="704.47" width="0.9" height="0.9" fill="#d2d2d2"/>
<rect x="235.89" y="694.61" width="0.9" height="0.9" fill="#dcdcdc"/>
<rect x="234.82" y="703.91" width="0.9" height="0.9" fill="#dcdcdc"/>
<rect x="230.41" y="689.13" width="0.9" height="0.9" fill="#c8c8c8"/>
<rect x="227.91" y="695.56" width="0.9" height="0.9" fill="#dcdcdc"/>
<rect x="236.31" y="699.93" width="0.9" height="0.9" fill="#c8c8c8"/>
<line x1="211.7" y1="625.9" x2="211.7" y2="733.9" stroke="#9a9a9a" stroke-width="1.5"/>
<line x1="185.2" y1="698.9" x2="293.2" y2="698.9" stroke="#505050" stroke-width="1.2"/>
<line x1="181.8" y1="733.9" x2="185.2" y2="733.9" stroke="#333" stroke-width="1.4"/>
<line x1="183.5" y1="725.77" x2="185.2" y2="725.77" stroke="#666" stroke-width="0.9"/>
<line x1="183.5" y1="721.02" x2="185.2" y2="721.02" stroke="#666" stroke-width="0.9"/>
<line x1="183.5" y1="717.64" x2="185.2" y2="717.64" stroke="#666" stroke-width="0.9"/>
<line x1="183.5" y1="715.03" x2="185.2" y2="715.03" stroke="#666" stroke-width="0.9"/>
<line x1="183.5" y1="712.89" x2="185.2" y2="712.89" stroke="#666" stroke-width="0.9"/>
<line x1="183.5" y1="711.08" x2="185.2" y2="711.08" stroke="#666" stroke-width="0.9"/>
<line x1="183.5" y1="709.52" x2="185.2" y2="709.52" stroke="#666" stroke-width="0.9"/>
<line x1="183.5" y1="708.14" x2="185.2" y2="708.14" stroke="#666" stroke-width="0.9"/>
<text x="168.5" y="730.6" font-size="8" fill="#1a1a1a" style="stroke-width:0.25px" letter-spacing="-0.75">10</text><text x="174.9" y="727.9" font-size="4.8" fill="#1a1a1a" style="stroke-width:0.15px">0</text>
<line x1="181.8" y1="706.9" x2="185.2" y2="706.9" stroke="#333" stroke-width="1.4"/>
<line x1="183.5" y1="698.77" x2="185.2" y2="698.77" stroke="#666" stroke-width="0.9"/>
<line x1="183.5" y1="694.02" x2="185.2" y2="694.02" stroke="#666" stroke-width="0.9"/>
<line x1="183.5" y1="690.64" x2="185.2" y2="690.64" stroke="#666" stroke-width="0.9"/>
<line x1="183.5" y1="688.03" x2="185.2" y2="688.03" stroke="#666" stroke-width="0.9"/>
<line x1="183.5" y1="685.89" x2="185.2" y2="685.89" stroke="#666" stroke-width="0.9"/>
<line x1="183.5" y1="684.08" x2="185.2" y2="684.08" stroke="#666" stroke-width="0.9"/>
<line x1="183.5" y1="682.52" x2="185.2" y2="682.52" stroke="#666" stroke-width="0.9"/>
<line x1="183.5" y1="681.14" x2="185.2" y2="681.14" stroke="#666" stroke-width="0.9"/>
<text x="168.5" y="709.8" font-size="8" fill="#1a1a1a" style="stroke-width:0.25px" letter-spacing="-0.75">10</text><text x="174.9" y="707.1" font-size="4.8" fill="#1a1a1a" style="stroke-width:0.15px">1</text>
<line x1="181.8" y1="679.9" x2="185.2" y2="679.9" stroke="#333" stroke-width="1.4"/>
<line x1="183.5" y1="671.77" x2="185.2" y2="671.77" stroke="#666" stroke-width="0.9"/>
<line x1="183.5" y1="667.02" x2="185.2" y2="667.02" stroke="#666" stroke-width="0.9"/>
<line x1="183.5" y1="663.64" x2="185.2" y2="663.64" stroke="#666" stroke-width="0.9"/>
<line x1="183.5" y1="661.03" x2="185.2" y2="661.03" stroke="#666" stroke-width="0.9"/>
<line x1="183.5" y1="658.89" x2="185.2" y2="658.89" stroke="#666" stroke-width="0.9"/>
<line x1="183.5" y1="657.08" x2="185.2" y2="657.08" stroke="#666" stroke-width="0.9"/>
<line x1="183.5" y1="655.52" x2="185.2" y2="655.52" stroke="#666" stroke-width="0.9"/>
<line x1="183.5" y1="654.14" x2="185.2" y2="654.14" stroke="#666" stroke-width="0.9"/>
<text x="168.5" y="682.8" font-size="8" fill="#1a1a1a" style="stroke-width:0.25px" letter-spacing="-0.75">10</text><text x="174.9" y="680.1" font-size="4.8" fill="#1a1a1a" style="stroke-width:0.15px">2</text>
<line x1="181.8" y1="652.9" x2="185.2" y2="652.9" stroke="#333" stroke-width="1.4"/>
<line x1="183.5" y1="644.77" x2="185.2" y2="644.77" stroke="#666" stroke-width="0.9"/>
<line x1="183.5" y1="640.02" x2="185.2" y2="640.02" stroke="#666" stroke-width="0.9"/>
<line x1="183.5" y1="636.64" x2="185.2" y2="636.64" stroke="#666" stroke-width="0.9"/>
<line x1="183.5" y1="634.03" x2="185.2" y2="634.03" stroke="#666" stroke-width="0.9"/>
<line x1="183.5" y1="631.89" x2="185.2" y2="631.89" stroke="#666" stroke-width="0.9"/>
<line x1="183.5" y1="630.08" x2="185.2" y2="630.08" stroke="#666" stroke-width="0.9"/>
<line x1="183.5" y1="628.52" x2="185.2" y2="628.52" stroke="#666" stroke-width="0.9"/>
<line x1="183.5" y1="627.14" x2="185.2" y2="627.14" stroke="#666" stroke-width="0.9"/>
<text x="168.5" y="655.8" font-size="8" fill="#1a1a1a" style="stroke-width:0.25px" letter-spacing="-0.75">10</text><text x="174.9" y="653.1" font-size="4.8" fill="#1a1a1a" style="stroke-width:0.15px">3</text>
<line x1="181.8" y1="625.9" x2="185.2" y2="625.9" stroke="#333" stroke-width="1.4"/>
<text x="168.5" y="631.5" font-size="8" fill="#1a1a1a" style="stroke-width:0.25px" letter-spacing="-0.75">10</text><text x="174.9" y="628.8" font-size="4.8" fill="#1a1a1a" style="stroke-width:0.15px">4</text>
<line x1="185.2" y1="733.9" x2="185.2" y2="736.7" stroke="#222" stroke-width="1.6"/>
<line x1="193.33" y1="733.9" x2="193.33" y2="735.9" stroke="#444" stroke-width="1.1"/>
<line x1="198.08" y1="733.9" x2="198.08" y2="735.9" stroke="#444" stroke-width="1.1"/>
<line x1="201.46" y1="733.9" x2="201.46" y2="735.9" stroke="#444" stroke-width="1.1"/>
<line x1="204.07" y1="733.9" x2="204.07" y2="735.9" stroke="#444" stroke-width="1.1"/>
<line x1="206.21" y1="733.9" x2="206.21" y2="735.9" stroke="#444" stroke-width="1.1"/>
<line x1="208.02" y1="733.9" x2="208.02" y2="735.9" stroke="#444" stroke-width="1.1"/>
<line x1="209.58" y1="733.9" x2="209.58" y2="735.9" stroke="#444" stroke-width="1.1"/>
<line x1="210.96" y1="733.9" x2="210.96" y2="735.9" stroke="#444" stroke-width="1.1"/>
<text x="182.6" y="746.1" font-size="8" fill="#1a1a1a" style="stroke-width:0.25px" letter-spacing="-0.75">10</text><text x="189.2" y="743.4" font-size="4.8" fill="#1a1a1a" style="stroke-width:0.15px">0</text>
<line x1="212.2" y1="733.9" x2="212.2" y2="736.7" stroke="#222" stroke-width="1.6"/>
<line x1="220.33" y1="733.9" x2="220.33" y2="735.9" stroke="#444" stroke-width="1.1"/>
<line x1="225.08" y1="733.9" x2="225.08" y2="735.9" stroke="#444" stroke-width="1.1"/>
<line x1="228.46" y1="733.9" x2="228.46" y2="735.9" stroke="#444" stroke-width="1.1"/>
<line x1="231.07" y1="733.9" x2="231.07" y2="735.9" stroke="#444" stroke-width="1.1"/>
<line x1="233.21" y1="733.9" x2="233.21" y2="735.9" stroke="#444" stroke-width="1.1"/>
<line x1="235.02" y1="733.9" x2="235.02" y2="735.9" stroke="#444" stroke-width="1.1"/>
<line x1="236.58" y1="733.9" x2="236.58" y2="735.9" stroke="#444" stroke-width="1.1"/>
<line x1="237.96" y1="733.9" x2="237.96" y2="735.9" stroke="#444" stroke-width="1.1"/>
<text x="208.8" y="746.1" font-size="8" fill="#1a1a1a" style="stroke-width:0.25px" letter-spacing="-0.75">10</text><text x="215.4" y="743.4" font-size="4.8" fill="#1a1a1a" style="stroke-width:0.15px">1</text>
<line x1="239.2" y1="733.9" x2="239.2" y2="736.7" stroke="#222" stroke-width="1.6"/>
<line x1="247.33" y1="733.9" x2="247.33" y2="735.9" stroke="#444" stroke-width="1.1"/>
<line x1="252.08" y1="733.9" x2="252.08" y2="735.9" stroke="#444" stroke-width="1.1"/>
<line x1="255.46" y1="733.9" x2="255.46" y2="735.9" stroke="#444" stroke-width="1.1"/>
<line x1="258.07" y1="733.9" x2="258.07" y2="735.9" stroke="#444" stroke-width="1.1"/>
<line x1="260.21" y1="733.9" x2="260.21" y2="735.9" stroke="#444" stroke-width="1.1"/>
<line x1="262.02" y1="733.9" x2="262.02" y2="735.9" stroke="#444" stroke-width="1.1"/>
<line x1="263.58" y1="733.9" x2="263.58" y2="735.9" stroke="#444" stroke-width="1.1"/>
<line x1="264.96" y1="733.9" x2="264.96" y2="735.9" stroke="#444" stroke-width="1.1"/>
<text x="233.9" y="746.1" font-size="8" fill="#1a1a1a" style="stroke-width:0.25px" letter-spacing="-0.75">10</text><text x="240.5" y="743.4" font-size="4.8" fill="#1a1a1a" style="stroke-width:0.15px">2</text>
<line x1="266.2" y1="733.9" x2="266.2" y2="736.7" stroke="#222" stroke-width="1.6"/>
<line x1="274.33" y1="733.9" x2="274.33" y2="735.9" stroke="#444" stroke-width="1.1"/>
<line x1="279.08" y1="733.9" x2="279.08" y2="735.9" stroke="#444" stroke-width="1.1"/>
<line x1="282.46" y1="733.9" x2="282.46" y2="735.9" stroke="#444" stroke-width="1.1"/>
<line x1="285.07" y1="733.9" x2="285.07" y2="735.9" stroke="#444" stroke-width="1.1"/>
<line x1="287.21" y1="733.9" x2="287.21" y2="735.9" stroke="#444" stroke-width="1.1"/>
<line x1="289.02" y1="733.9" x2="289.02" y2="735.9" stroke="#444" stroke-width="1.1"/>
<line x1="290.58" y1="733.9" x2="290.58" y2="735.9" stroke="#444" stroke-width="1.1"/>
<line x1="291.96" y1="733.9" x2="291.96" y2="735.9" stroke="#444" stroke-width="1.1"/>
<text x="259.7" y="746.1" font-size="8" fill="#1a1a1a" style="stroke-width:0.25px" letter-spacing="-0.75">10</text><text x="266.3" y="743.4" font-size="4.8" fill="#1a1a1a" style="stroke-width:0.15px">3</text>
<line x1="293.2" y1="733.9" x2="293.2" y2="736.7" stroke="#222" stroke-width="1.6"/>
<text x="282.6" y="746.1" font-size="8" fill="#1a1a1a" style="stroke-width:0.25px" letter-spacing="-0.75">10</text><text x="289.2" y="743.4" font-size="4.8" fill="#1a1a1a" style="stroke-width:0.15px">4</text>
<text x="282.7" y="642.2" font-size="9" text-anchor="end" fill="#2a2a2a" style="stroke-width:0.25px">25%</text>
<line x1="53" y1="754.6" x2="294" y2="754.6" stroke="#111" stroke-width="1.8"/>
<text x="171.6" y="772.8" font-size="11" text-anchor="middle" fill="#1a1a1a">CD49b</text>
</svg>
</body></html>
